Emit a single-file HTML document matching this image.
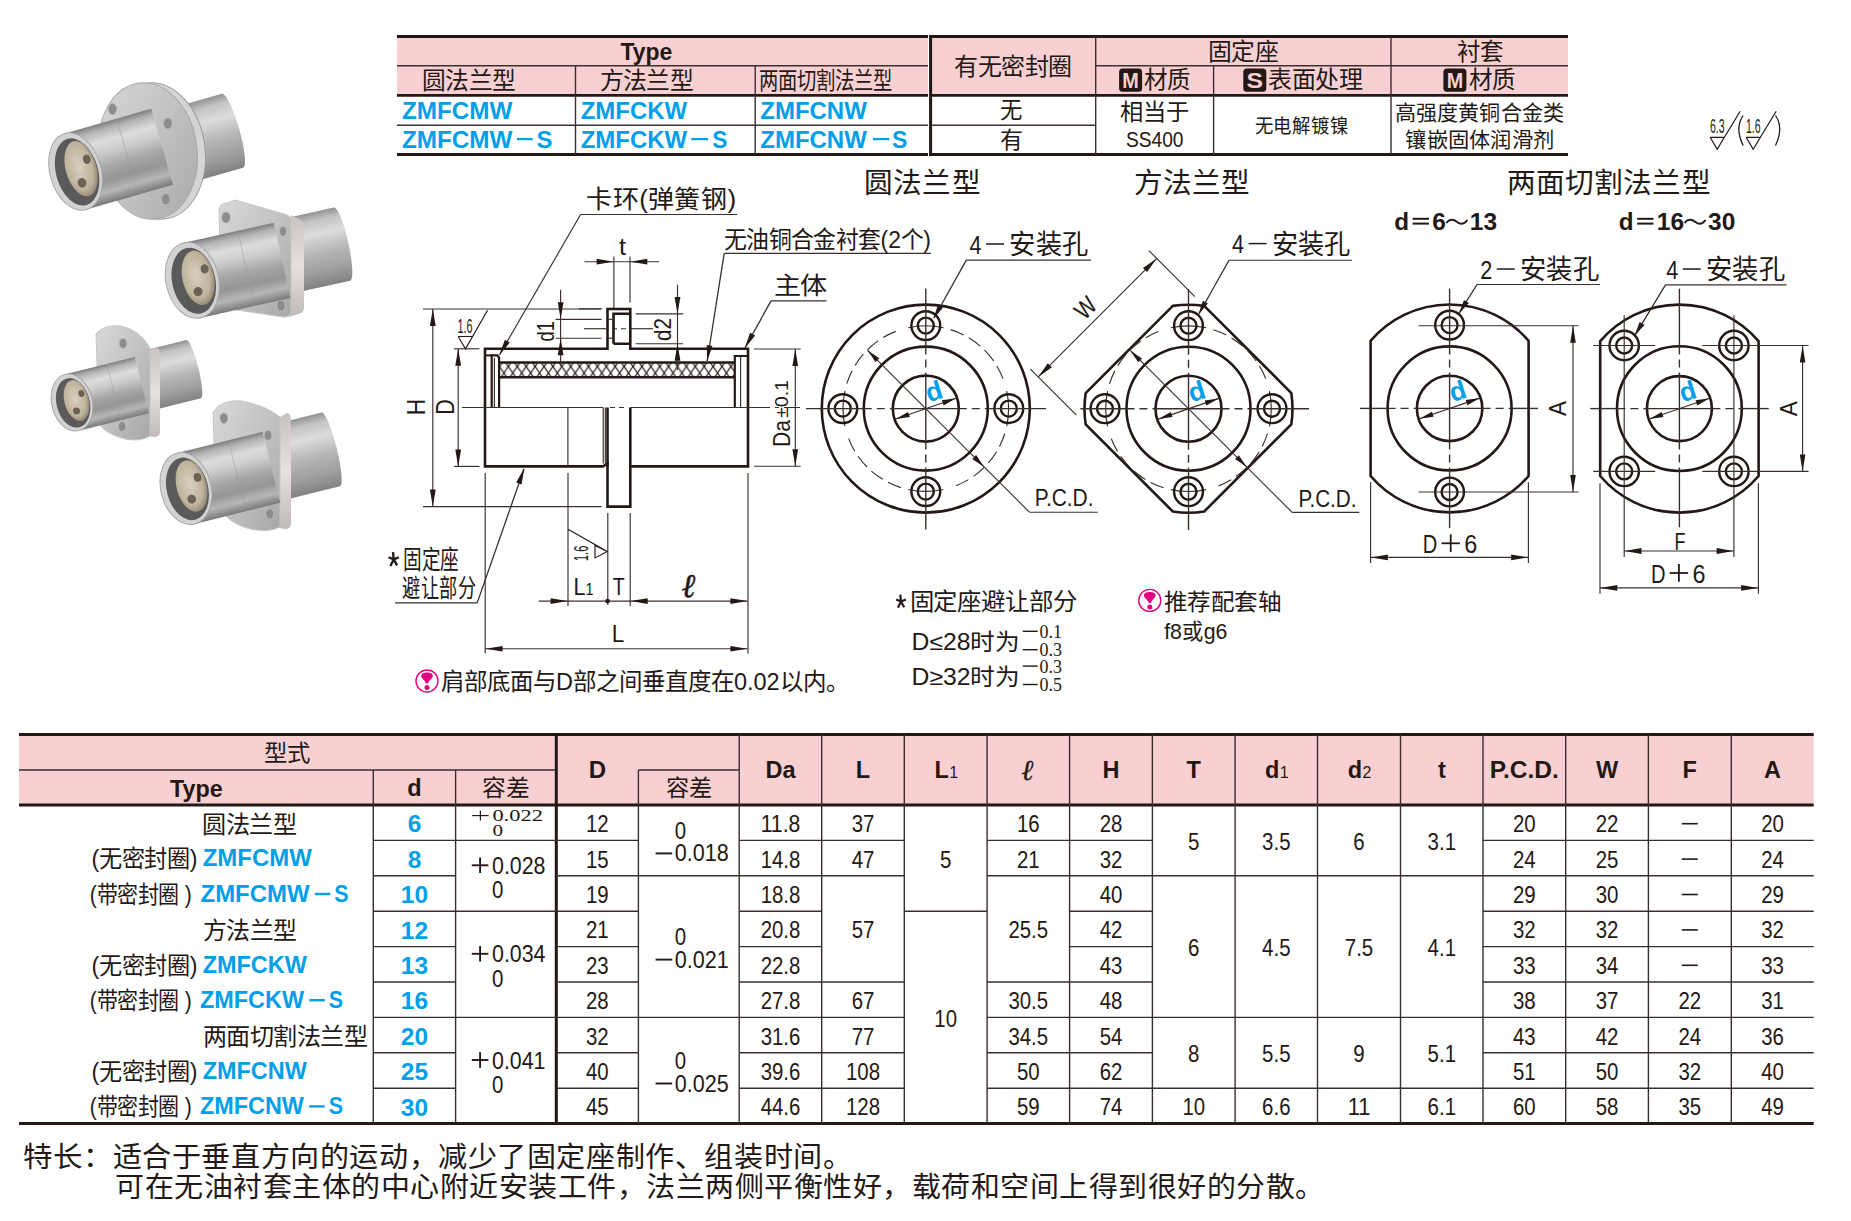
<!DOCTYPE html>
<html lang="zh-CN"><head><meta charset="utf-8"><title>ZMFCMW</title>
<style>html,body{margin:0;padding:0;background:#fff;overflow:hidden;}svg{display:block;font-family:"Liberation Sans",sans-serif;}</style></head><body>
<svg width="1851" height="1221" viewBox="0 0 1851 1221">
<rect width="1851" height="1221" fill="#fff"/>
<defs>
<linearGradient id="gM" x1="0" y1="0" x2="0" y2="1">
<stop offset="0" stop-color="#7e7e7e"/><stop offset="0.08" stop-color="#b2b2b2"/>
<stop offset="0.22" stop-color="#dcdcdc"/><stop offset="0.36" stop-color="#cdcdcd"/>
<stop offset="0.55" stop-color="#a6a6a6"/><stop offset="0.72" stop-color="#959595"/>
<stop offset="0.86" stop-color="#b6b6b6"/><stop offset="1" stop-color="#7a7a7a"/></linearGradient>
<linearGradient id="gR" x1="0" y1="0" x2="0" y2="1">
<stop offset="0" stop-color="#929292"/><stop offset="0.12" stop-color="#c4c4c4"/>
<stop offset="0.3" stop-color="#dcdcdc"/><stop offset="0.55" stop-color="#b6b6b6"/>
<stop offset="0.8" stop-color="#9e9e9e"/><stop offset="1" stop-color="#828282"/></linearGradient>
<linearGradient id="gF" x1="0" y1="0" x2="1" y2="1">
<stop offset="0" stop-color="#d8d8d8"/><stop offset="0.5" stop-color="#c2c2c2"/>
<stop offset="1" stop-color="#a8a8a8"/></linearGradient>
<linearGradient id="gS" x1="0" y1="0" x2="0" y2="1">
<stop offset="0" stop-color="#c8c2c0"/><stop offset="0.5" stop-color="#e6e0de"/>
<stop offset="1" stop-color="#c0bab8"/></linearGradient>
<radialGradient id="gB" cx="0.45" cy="0.45" r="0.6">
<stop offset="0" stop-color="#d8d0be"/><stop offset="0.7" stop-color="#bfb39c"/>
<stop offset="1" stop-color="#8a7f6c"/></radialGradient>
</defs>
<g transform="translate(75.6,171.5) rotate(-16.0)">
<rect x="70.0" y="-34.5" width="92.0" height="77.0" fill="url(#gR)"/>
<ellipse cx="162.0" cy="4.0" rx="7.0" ry="38.5" fill="url(#gR)"/>
</g>
<ellipse cx="156" cy="151" rx="49" ry="68.5" transform="rotate(-8 156 151)" fill="#d6d4d3" stroke="#9c9c9c" stroke-width="1"/>
<ellipse cx="148" cy="151" rx="49" ry="68.5" transform="rotate(-8 148 151)" fill="url(#gF)" stroke="#a8a8a8" stroke-width="1"/>
<ellipse cx="112.6" cy="109.1" rx="4.3" ry="5.6" fill="#8c8c8c" stroke="#b8b8b8" stroke-width="1"/>
<ellipse cx="167.9" cy="123.5" rx="4.3" ry="5.6" fill="#8c8c8c" stroke="#b8b8b8" stroke-width="1"/>
<ellipse cx="165.8" cy="199.2" rx="4.3" ry="5.6" fill="#8c8c8c" stroke="#b8b8b8" stroke-width="1"/>
<g transform="translate(75.6,171.5) rotate(-16.0)">
<rect x="0" y="-39.5" width="90.0" height="79.0" fill="url(#gM)"/>
<line x1="54.0" y1="-39.5" x2="54.0" y2="39.5" stroke="#999" stroke-width="0.8" opacity="0.5"/>
<ellipse cx="0" cy="0" rx="25.6" ry="39.5" fill="#d2d2d2" stroke="#a8a8a8" stroke-width="1"/>
<ellipse cx="1.3" cy="0.8" rx="21.0" ry="34.4" fill="#5a5a5a"/>
<ellipse cx="6.1" cy="-1.2" rx="15.4" ry="28.4" fill="url(#gB)"/>
<ellipse cx="14.1" cy="-8.7" rx="3.8" ry="4.7" fill="#6a6254"/>
<ellipse cx="3.1" cy="12.6" rx="4.4" ry="4.7" fill="#6a6254"/>
</g>
<g transform="translate(192.3,280.3) rotate(-12.5)">
<rect x="70.0" y="-40.5" width="84.0" height="75.0" fill="url(#gR)"/>
<ellipse cx="154.0" cy="-3.0" rx="6.5" ry="37.5" fill="url(#gR)"/>
</g>
<path d="M291,215 L299,219 Q304,222 304,228 L304,308 Q304,313 298,314 L289,317 Z" fill="url(#gS)"/>
<path d="M227,203 Q219,203 219,211 L222,300 Q222,308 230,309 L283,317 Q291,318 291,310 L291,222 Q291,215 284,214 L235,200 Z" fill="url(#gF)" stroke="#c6c6c6" stroke-width="1"/>
<ellipse cx="226.0" cy="217.5" rx="4.3" ry="5.6" fill="#8c8c8c" stroke="#b8b8b8" stroke-width="1"/>
<ellipse cx="281.0" cy="305.8" rx="4.3" ry="5.6" fill="#8c8c8c" stroke="#b8b8b8" stroke-width="1"/>
<ellipse cx="283.0" cy="231.3" rx="3.5" ry="5" fill="#8c8c8c" stroke="#b8b8b8" stroke-width="1"/>
<g transform="translate(192.3,280.3) rotate(-12.5)">
<rect x="0" y="-38.5" width="92.0" height="77.0" fill="url(#gM)"/>
<line x1="55.2" y1="-38.5" x2="55.2" y2="38.5" stroke="#999" stroke-width="0.8" opacity="0.5"/>
<ellipse cx="0" cy="0" rx="26.4" ry="38.5" fill="#d2d2d2" stroke="#a8a8a8" stroke-width="1"/>
<ellipse cx="1.3" cy="0.8" rx="21.6" ry="33.5" fill="#5a5a5a"/>
<ellipse cx="6.3" cy="-1.2" rx="15.8" ry="27.7" fill="url(#gB)"/>
<ellipse cx="14.5" cy="-8.5" rx="4.0" ry="4.6" fill="#6a6254"/>
<ellipse cx="3.2" cy="12.3" rx="4.5" ry="4.6" fill="#6a6254"/>
</g>
<g transform="translate(72.0,402.5) rotate(-14.0)">
<rect x="60.0" y="-33.0" width="66.0" height="60.0" fill="url(#gR)"/>
<ellipse cx="126.0" cy="-3.0" rx="5.0" ry="30.0" fill="url(#gR)"/>
</g>
<path d="M149,351 L156,347 Q160,348 160,354 L160,432 Q160,437 154,437 L148,436 Z" fill="url(#gS)"/>
<path d="M96,334 Q104,324 121,326 Q140,330 150,348 L150,436 Q140,442 125,439 Q106,434 99,424 Z" fill="url(#gF)" stroke="#c6c6c6" stroke-width="1"/>
<ellipse cx="123.0" cy="343.4" rx="3.8" ry="5" fill="#8c8c8c" stroke="#b8b8b8" stroke-width="1"/>
<ellipse cx="122.0" cy="426.5" rx="3.8" ry="5" fill="#8c8c8c" stroke="#b8b8b8" stroke-width="1"/>
<g transform="translate(72.0,402.5) rotate(-14.0)">
<rect x="0" y="-29.0" width="72.0" height="58.0" fill="url(#gM)"/>
<line x1="43.2" y1="-29.0" x2="43.2" y2="29.0" stroke="#999" stroke-width="0.8" opacity="0.5"/>
<ellipse cx="0" cy="0" rx="20.3" ry="29.0" fill="#d2d2d2" stroke="#a8a8a8" stroke-width="1"/>
<ellipse cx="1.0" cy="0.6" rx="16.6" ry="25.2" fill="#5a5a5a"/>
<ellipse cx="4.9" cy="-0.9" rx="12.2" ry="20.9" fill="url(#gB)"/>
<ellipse cx="11.2" cy="-6.4" rx="3.0" ry="3.5" fill="#6a6254"/>
<ellipse cx="2.4" cy="9.3" rx="3.5" ry="3.5" fill="#6a6254"/>
</g>
<g transform="translate(186.0,488.5) rotate(-14.0)">
<rect x="72.0" y="-41.0" width="78.0" height="76.0" fill="url(#gR)"/>
<ellipse cx="150.0" cy="-3.0" rx="6.0" ry="38.0" fill="url(#gR)"/>
</g>
<path d="M280,417 L287,413 Q291,414 291,420 L291,523 Q291,529 285,529 L279,528 Z" fill="url(#gS)"/>
<path d="M213,412 Q222,399 241,401 Q265,405 280,417 L280,527 Q268,533 250,529 Q226,523 216,503 Z" fill="url(#gF)" stroke="#c6c6c6" stroke-width="1"/>
<ellipse cx="223.9" cy="418.2" rx="4" ry="5.3" fill="#8c8c8c" stroke="#b8b8b8" stroke-width="1"/>
<ellipse cx="268.0" cy="435.4" rx="3.8" ry="5" fill="#8c8c8c" stroke="#b8b8b8" stroke-width="1"/>
<ellipse cx="269.8" cy="513.8" rx="4" ry="5.3" fill="#8c8c8c" stroke="#b8b8b8" stroke-width="1"/>
<g transform="translate(186.0,488.5) rotate(-14.0)">
<rect x="0" y="-36.5" width="88.0" height="73.0" fill="url(#gM)"/>
<line x1="52.8" y1="-36.5" x2="52.8" y2="36.5" stroke="#999" stroke-width="0.8" opacity="0.5"/>
<ellipse cx="0" cy="0" rx="25.2" ry="36.5" fill="#d2d2d2" stroke="#a8a8a8" stroke-width="1"/>
<ellipse cx="1.3" cy="0.7" rx="20.7" ry="31.8" fill="#5a5a5a"/>
<ellipse cx="6.0" cy="-1.1" rx="15.1" ry="26.3" fill="url(#gB)"/>
<ellipse cx="13.9" cy="-8.0" rx="3.8" ry="4.4" fill="#6a6254"/>
<ellipse cx="3.0" cy="11.7" rx="4.3" ry="4.4" fill="#6a6254"/>
</g>
<rect x="397.0" y="36.5" width="531.0" height="58.8" fill="#f8d0d1"/>
<rect x="929.0" y="36.5" width="639.0" height="58.8" fill="#f8d0d1"/>
<line x1="397.0" y1="36.5" x2="928.0" y2="36.5" stroke="#231815" stroke-width="3.0" stroke-linecap="butt"/>
<line x1="397.0" y1="95.3" x2="928.0" y2="95.3" stroke="#231815" stroke-width="2.8" stroke-linecap="butt"/>
<line x1="397.0" y1="154.6" x2="928.0" y2="154.6" stroke="#231815" stroke-width="3.0" stroke-linecap="butt"/>
<line x1="929.0" y1="36.5" x2="1568.0" y2="36.5" stroke="#231815" stroke-width="3.0" stroke-linecap="butt"/>
<line x1="929.0" y1="95.3" x2="1568.0" y2="95.3" stroke="#231815" stroke-width="2.8" stroke-linecap="butt"/>
<line x1="929.0" y1="154.6" x2="1568.0" y2="154.6" stroke="#231815" stroke-width="3.0" stroke-linecap="butt"/>
<line x1="397.0" y1="65.8" x2="928.0" y2="65.8" stroke="#3a2e2c" stroke-width="1.4" stroke-linecap="butt"/>
<line x1="1096.0" y1="65.8" x2="1568.0" y2="65.8" stroke="#3a2e2c" stroke-width="1.4" stroke-linecap="butt"/>
<line x1="397.0" y1="125.2" x2="928.0" y2="125.2" stroke="#3a2e2c" stroke-width="1.4" stroke-linecap="butt"/>
<line x1="929.0" y1="125.2" x2="1096.0" y2="125.2" stroke="#3a2e2c" stroke-width="1.4" stroke-linecap="butt"/>
<line x1="575.5" y1="65.8" x2="575.5" y2="154.6" stroke="#3a2e2c" stroke-width="1.4" stroke-linecap="butt"/>
<line x1="755.2" y1="65.8" x2="755.2" y2="154.6" stroke="#3a2e2c" stroke-width="1.4" stroke-linecap="butt"/>
<line x1="930.6" y1="35.0" x2="930.6" y2="156.1" stroke="#231815" stroke-width="3.0" stroke-linecap="butt"/>
<line x1="1095.7" y1="36.5" x2="1095.7" y2="154.6" stroke="#3a2e2c" stroke-width="1.4" stroke-linecap="butt"/>
<line x1="1213.6" y1="65.8" x2="1213.6" y2="154.6" stroke="#3a2e2c" stroke-width="1.4" stroke-linecap="butt"/>
<line x1="1391.0" y1="36.5" x2="1391.0" y2="154.6" stroke="#3a2e2c" stroke-width="1.4" stroke-linecap="butt"/>
<text x="620.4" y="59.7" font-size="23" font-weight="bold" fill="#231815" textLength="51.9" lengthAdjust="spacingAndGlyphs">Type</text>
<text x="422.1" y="89.0" font-size="23.5" fill="#231815" textLength="93.1" lengthAdjust="spacingAndGlyphs">圆法兰型</text>
<text x="599.5" y="89.0" font-size="23.5" fill="#231815" textLength="93.4" lengthAdjust="spacingAndGlyphs">方法兰型</text>
<text x="759.4" y="89.0" font-size="23.5" fill="#231815" textLength="132.6" lengthAdjust="spacingAndGlyphs">两面切割法兰型</text>
<text x="401.9" y="119.1" font-size="24" font-weight="bold" fill="#00a0e9" textLength="110.5" lengthAdjust="spacingAndGlyphs">ZMFCMW</text>
<text x="401.9" y="147.8" font-size="24" font-weight="bold" fill="#00a0e9" textLength="110.5" lengthAdjust="spacingAndGlyphs">ZMFCMW</text>
<line x1="517.0" y1="139.1" x2="532.6" y2="139.1" stroke="#00a0e9" stroke-width="2.3" stroke-linecap="butt"/>
<text x="536.5" y="147.8" font-size="24" font-weight="bold" fill="#00a0e9" textLength="15.9" lengthAdjust="spacingAndGlyphs">S</text>
<text x="580.7" y="119.1" font-size="24" font-weight="bold" fill="#00a0e9" textLength="106.5" lengthAdjust="spacingAndGlyphs">ZMFCKW</text>
<text x="580.7" y="147.8" font-size="24" font-weight="bold" fill="#00a0e9" textLength="106.5" lengthAdjust="spacingAndGlyphs">ZMFCKW</text>
<line x1="691.3" y1="139.1" x2="708.0" y2="139.1" stroke="#00a0e9" stroke-width="2.3" stroke-linecap="butt"/>
<text x="712.2" y="147.8" font-size="24" font-weight="bold" fill="#00a0e9" textLength="15.1" lengthAdjust="spacingAndGlyphs">S</text>
<text x="760.3" y="119.1" font-size="24" font-weight="bold" fill="#00a0e9" textLength="106.5" lengthAdjust="spacingAndGlyphs">ZMFCNW</text>
<text x="760.3" y="147.8" font-size="24" font-weight="bold" fill="#00a0e9" textLength="106.5" lengthAdjust="spacingAndGlyphs">ZMFCNW</text>
<line x1="872.9" y1="139.1" x2="889.3" y2="139.1" stroke="#00a0e9" stroke-width="2.3" stroke-linecap="butt"/>
<text x="892.1" y="147.8" font-size="24" font-weight="bold" fill="#00a0e9" textLength="15.3" lengthAdjust="spacingAndGlyphs">S</text>
<text x="954.4" y="75.0" font-size="23.5" fill="#231815" textLength="117.5" lengthAdjust="spacingAndGlyphs">有无密封圈</text>
<text x="999.7" y="117.5" font-size="23" fill="#231815" textLength="22.4" lengthAdjust="spacingAndGlyphs">无</text>
<text x="999.5" y="148.3" font-size="23" fill="#231815" textLength="23.1" lengthAdjust="spacingAndGlyphs">有</text>
<text x="1208.1" y="59.7" font-size="23.5" fill="#231815" textLength="70.0" lengthAdjust="spacingAndGlyphs">固定座</text>
<text x="1456.6" y="60.2" font-size="23.5" fill="#231815" textLength="46.0" lengthAdjust="spacingAndGlyphs">衬套</text>
<rect x="1119.1" y="68.6" width="23" height="23.2" rx="3.5" fill="#231815"/>
<text x="1130.6" y="88.2" font-size="22" font-weight="bold" text-anchor="middle" fill="#f8d0d1" textLength="16.5" lengthAdjust="spacingAndGlyphs">M</text>
<text x="1144.2" y="88.4" font-size="23.5" fill="#231815" textLength="46.1" lengthAdjust="spacingAndGlyphs">材质</text>
<rect x="1243.3" y="68.6" width="23" height="23.2" rx="3.5" fill="#231815"/>
<text x="1254.8" y="88.2" font-size="22" font-weight="bold" text-anchor="middle" fill="#f8d0d1" textLength="16.5" lengthAdjust="spacingAndGlyphs">S</text>
<text x="1268.0" y="88.4" font-size="23.5" fill="#231815" textLength="94.1" lengthAdjust="spacingAndGlyphs">表面处理</text>
<rect x="1443.4" y="68.6" width="23" height="23.2" rx="3.5" fill="#231815"/>
<text x="1454.9" y="88.2" font-size="22" font-weight="bold" text-anchor="middle" fill="#f8d0d1" textLength="16.5" lengthAdjust="spacingAndGlyphs">M</text>
<text x="1468.9" y="88.4" font-size="23.5" fill="#231815" textLength="46.2" lengthAdjust="spacingAndGlyphs">材质</text>
<text x="1119.8" y="119.8" font-size="23" fill="#231815" textLength="69.9" lengthAdjust="spacingAndGlyphs">相当于</text>
<text x="1125.9" y="146.5" font-size="22" fill="#231815" textLength="57.6" lengthAdjust="spacingAndGlyphs">SS400</text>
<text x="1254.5" y="133.2" font-size="19.5" fill="#231815" textLength="94.3" lengthAdjust="spacingAndGlyphs">无电解镀镍</text>
<text x="1395.0" y="120.2" font-size="21" fill="#231815" textLength="168.9" lengthAdjust="spacingAndGlyphs">高强度黄铜合金类</text>
<text x="1405.3" y="146.5" font-size="21" fill="#231815" textLength="149.0" lengthAdjust="spacingAndGlyphs">镶嵌固体润滑剂</text>
<path d="M1710.2,137.3 L1723.7,137.3 M1710.2,137.3 L1717.2,149.3 L1724.7,136.8 L1740.2,111.3" fill="none" stroke="#231815" stroke-width="1.2"/>
<text x="1709.9" y="132.7" font-size="20.5" fill="#231815" textLength="14.6" lengthAdjust="spacingAndGlyphs">6.3</text>
<path d="M1746.2,137.3 L1759.7,137.3 M1746.2,137.3 L1753.2,149.3 L1760.7,136.8 L1776.2,111.3" fill="none" stroke="#231815" stroke-width="1.2"/>
<text x="1745.9" y="132.7" font-size="20.5" fill="#231815" textLength="14.6" lengthAdjust="spacingAndGlyphs">1.6</text>
<path d="M1743.2,115.5 Q1734.5,128 1743.2,145.5" fill="none" stroke="#231815" stroke-width="1.3"/>
<path d="M1775.5,115.5 Q1784,128 1775.5,145.5" fill="none" stroke="#231815" stroke-width="1.3"/>
<defs><pattern id="hx" patternUnits="userSpaceOnUse" width="8.9" height="13" x="499.5" y="366.5">
<path d="M-0.5,-0.73 L9.4,13.73 M9.4,-0.73 L-0.5,13.73" stroke="#231815" stroke-width="1.25"/></pattern></defs>
<rect x="499.0" y="362.5" width="235.5" height="14.8" fill="url(#hx)"/>
<line x1="499.0" y1="362.5" x2="734.5" y2="362.5" stroke="#231815" stroke-width="2.4" stroke-linecap="butt"/>
<line x1="499.0" y1="377.3" x2="734.5" y2="377.3" stroke="#231815" stroke-width="2.4" stroke-linecap="butt"/>
<path d="M485.0,407.5 L485.0,348.8 L607.5,348.8 L607.5,309.0 L630.3,309.0 L630.3,348.8 L748.0,348.8 L748.0,466.4 L630.3,466.4 L630.3,506.6 L607.5,506.6 L607.5,463.4 L603.0,466.4 L485.0,466.4 L485.0,407.5" fill="none" stroke="#231815" stroke-width="2.6"/>
<path d="M613.5,343.8 L613.5,313.8 L629.5,313.8 M613.5,343.8 L629.5,343.8" fill="none" stroke="#231815" stroke-width="2.6"/>
<line x1="608.0" y1="319.3" x2="613.5" y2="319.3" stroke="#3a2e2c" stroke-width="1.15" stroke-linecap="butt"/>
<line x1="608.0" y1="338.2" x2="613.5" y2="338.2" stroke="#3a2e2c" stroke-width="1.15" stroke-linecap="butt"/>
<path d="M491.7,407.5 L491.7,355.4 L497.5,355.4 L499.1,358 L499.1,407.5" fill="none" stroke="#231815" stroke-width="2.2"/>
<line x1="494.4" y1="358.0" x2="494.4" y2="407.5" stroke="#3a2e2c" stroke-width="1.15" stroke-linecap="butt"/>
<line x1="485.0" y1="355.4" x2="491.7" y2="355.4" stroke="#231815" stroke-width="2.0" stroke-linecap="butt"/>
<path d="M747.5,356 L734.8,356 L734.8,407.5" fill="none" stroke="#231815" stroke-width="2.2"/>
<line x1="740.6" y1="356.0" x2="740.6" y2="407.5" stroke="#3a2e2c" stroke-width="1.15" stroke-linecap="butt"/>
<line x1="607.5" y1="407.5" x2="607.5" y2="466.4" stroke="#231815" stroke-width="2.6" stroke-linecap="butt"/>
<line x1="630.3" y1="407.5" x2="630.3" y2="466.4" stroke="#231815" stroke-width="2.6" stroke-linecap="butt"/>
<line x1="567.9" y1="407.5" x2="567.9" y2="466.4" stroke="#3a2e2c" stroke-width="1.15" stroke-linecap="butt"/>
<line x1="603.2" y1="407.5" x2="603.2" y2="463.4" stroke="#3a2e2c" stroke-width="1.15" stroke-linecap="butt"/>
<line x1="605.3" y1="407.5" x2="605.3" y2="463.4" stroke="#3a2e2c" stroke-width="1.15" stroke-linecap="butt"/>
<line x1="462.0" y1="407.5" x2="603.0" y2="407.5" stroke="#3a2e2c" stroke-width="1.15" stroke-linecap="butt"/>
<line x1="630.5" y1="407.5" x2="748.0" y2="407.5" stroke="#3a2e2c" stroke-width="1.15" stroke-linecap="butt"/>
<line x1="748.0" y1="407.5" x2="800.0" y2="407.5" stroke="#3a2e2c" stroke-width="1.15" stroke-dasharray="22,5,4,5" stroke-linecap="butt"/>
<line x1="610.0" y1="407.5" x2="628.0" y2="407.5" stroke="#3a2e2c" stroke-width="1.15" stroke-dasharray="5,4" stroke-linecap="butt"/>
<line x1="584.0" y1="328.7" x2="606.0" y2="328.7" stroke="#3a2e2c" stroke-width="1.15" stroke-linecap="butt"/>
<line x1="612.0" y1="328.7" x2="631.0" y2="328.7" stroke="#3a2e2c" stroke-width="1.15" stroke-dasharray="5,4" stroke-linecap="butt"/>
<line x1="631.0" y1="328.7" x2="653.0" y2="328.7" stroke="#3a2e2c" stroke-width="1.15" stroke-linecap="butt"/>
<line x1="423.0" y1="309.0" x2="601.5" y2="309.0" stroke="#3a2e2c" stroke-width="1.15" stroke-linecap="butt"/>
<line x1="423.0" y1="506.6" x2="601.5" y2="506.6" stroke="#3a2e2c" stroke-width="1.15" stroke-linecap="butt"/>
<line x1="432.8" y1="309.0" x2="432.8" y2="506.6" stroke="#3a2e2c" stroke-width="1.15" stroke-linecap="butt"/>
<path d="M432.8,309.0 L435.7,326.0 L429.9,326.0 Z" fill="#231815"/>
<path d="M432.8,506.6 L429.9,489.6 L435.7,489.6 Z" fill="#231815"/>
<line x1="454.0" y1="348.8" x2="479.5" y2="348.8" stroke="#3a2e2c" stroke-width="1.15" stroke-linecap="butt"/>
<line x1="454.0" y1="466.4" x2="479.5" y2="466.4" stroke="#3a2e2c" stroke-width="1.15" stroke-linecap="butt"/>
<line x1="458.2" y1="348.8" x2="458.2" y2="466.4" stroke="#3a2e2c" stroke-width="1.15" stroke-linecap="butt"/>
<path d="M458.2,348.8 L461.1,365.8 L455.3,365.8 Z" fill="#231815"/>
<path d="M458.2,466.4 L455.3,449.4 L461.1,449.4 Z" fill="#231815"/>
<text transform="translate(424.6,406.9) rotate(-90)" font-size="25" text-anchor="middle" fill="#231815" textLength="16.5" lengthAdjust="spacingAndGlyphs">H</text>
<text transform="translate(454.0,406.9) rotate(-90)" font-size="25" text-anchor="middle" fill="#231815" textLength="15.5" lengthAdjust="spacingAndGlyphs">D</text>
<line x1="754.0" y1="349.0" x2="800.7" y2="349.0" stroke="#3a2e2c" stroke-width="1.15" stroke-linecap="butt"/>
<line x1="754.0" y1="466.2" x2="800.7" y2="466.2" stroke="#3a2e2c" stroke-width="1.15" stroke-linecap="butt"/>
<line x1="795.3" y1="349.0" x2="795.3" y2="466.2" stroke="#3a2e2c" stroke-width="1.15" stroke-linecap="butt"/>
<path d="M795.3,349.0 L798.1,366.0 L792.4,366.0 Z" fill="#231815"/>
<path d="M795.3,466.2 L792.4,449.2 L798.1,449.2 Z" fill="#231815"/>
<text transform="translate(789.7,447.0) rotate(-90)" font-size="24" fill="#231815" textLength="27" lengthAdjust="spacingAndGlyphs">Da</text>
<text transform="translate(787.5,418.0) rotate(-90)" font-size="18" fill="#231815" textLength="38" lengthAdjust="spacingAndGlyphs">±0.1</text>
<line x1="613.9" y1="256.4" x2="613.9" y2="308.6" stroke="#3a2e2c" stroke-width="1.15" stroke-linecap="butt"/>
<line x1="630.0" y1="256.4" x2="630.0" y2="302.5" stroke="#3a2e2c" stroke-width="1.15" stroke-linecap="butt"/>
<line x1="584.4" y1="261.7" x2="659.2" y2="261.7" stroke="#3a2e2c" stroke-width="1.15" stroke-linecap="butt"/>
<path d="M613.6,261.7 L596.6,264.6 L596.6,258.8 Z" fill="#231815"/>
<path d="M630.3,261.7 L647.3,258.8 L647.3,264.6 Z" fill="#231815"/>
<text x="619.0" y="254.9" font-size="24" fill="#231815" textLength="7.0" lengthAdjust="spacingAndGlyphs">t</text>
<line x1="555.6" y1="319.3" x2="601.5" y2="319.3" stroke="#3a2e2c" stroke-width="1.15" stroke-linecap="butt"/>
<line x1="555.6" y1="338.2" x2="601.5" y2="338.2" stroke="#3a2e2c" stroke-width="1.15" stroke-linecap="butt"/>
<line x1="579.0" y1="308.8" x2="601.5" y2="308.8" stroke="#3a2e2c" stroke-width="1.15" stroke-linecap="butt"/>
<line x1="560.6" y1="289.7" x2="560.6" y2="366.0" stroke="#3a2e2c" stroke-width="1.15" stroke-linecap="butt"/>
<path d="M560.6,319.3 L557.8,302.3 L563.5,302.3 Z" fill="#231815"/>
<path d="M560.6,338.2 L563.5,355.2 L557.8,355.2 Z" fill="#231815"/>
<text transform="translate(554.0,341.4) rotate(-90)" font-size="24" fill="#231815" textLength="20.4" lengthAdjust="spacingAndGlyphs">d1</text>
<line x1="635.7" y1="313.9" x2="683.2" y2="313.9" stroke="#3a2e2c" stroke-width="1.15" stroke-linecap="butt"/>
<line x1="635.7" y1="343.7" x2="683.2" y2="343.7" stroke="#3a2e2c" stroke-width="1.15" stroke-linecap="butt"/>
<line x1="677.5" y1="284.7" x2="677.5" y2="370.0" stroke="#3a2e2c" stroke-width="1.15" stroke-linecap="butt"/>
<path d="M677.5,313.9 L674.6,296.9 L680.4,296.9 Z" fill="#231815"/>
<path d="M677.5,343.7 L680.4,360.7 L674.6,360.7 Z" fill="#231815"/>
<text transform="translate(671.0,341.0) rotate(-90)" font-size="24" fill="#231815" textLength="23" lengthAdjust="spacingAndGlyphs">d2</text>
<path d="M458.2,336.5 L472.5,336.5 M458.2,336.5 L465.5,348.8 L487.6,310.3" fill="none" stroke="#231815" stroke-width="1.15"/>
<text x="457.6" y="332.7" font-size="20.5" fill="#231815" textLength="15.0" lengthAdjust="spacingAndGlyphs">1.6</text>
<line x1="485.2" y1="473.0" x2="485.2" y2="653.4" stroke="#3a2e2c" stroke-width="1.15" stroke-linecap="butt"/>
<line x1="568.0" y1="473.0" x2="568.0" y2="605.9" stroke="#3a2e2c" stroke-width="1.15" stroke-linecap="butt"/>
<line x1="607.8" y1="513.0" x2="607.8" y2="605.0" stroke="#3a2e2c" stroke-width="1.15" stroke-linecap="butt"/>
<line x1="630.2" y1="513.0" x2="630.2" y2="605.9" stroke="#3a2e2c" stroke-width="1.15" stroke-linecap="butt"/>
<line x1="748.0" y1="473.0" x2="748.0" y2="653.4" stroke="#3a2e2c" stroke-width="1.15" stroke-linecap="butt"/>
<line x1="538.8" y1="601.1" x2="747.4" y2="601.1" stroke="#3a2e2c" stroke-width="1.15" stroke-linecap="butt"/>
<path d="M567.6,601.1 L550.6,604.0 L550.6,598.2 Z" fill="#231815"/>
<circle cx="607.6" cy="601.1" r="2.3" fill="#231815" stroke="#231815" stroke-width="0"/>
<path d="M630.7,601.1 L647.7,598.2 L647.7,604.0 Z" fill="#231815"/>
<path d="M747.4,601.1 L730.4,604.0 L730.4,598.2 Z" fill="#231815"/>
<line x1="485.2" y1="648.7" x2="747.4" y2="648.7" stroke="#3a2e2c" stroke-width="1.15" stroke-linecap="butt"/>
<path d="M485.6,648.7 L502.6,645.9 L502.6,651.6 Z" fill="#231815"/>
<path d="M747.4,648.7 L730.4,651.6 L730.4,645.9 Z" fill="#231815"/>
<text x="573.4" y="595.1" font-size="24" fill="#231815" textLength="12.0" lengthAdjust="spacingAndGlyphs">L</text>
<text x="585.5" y="595.1" font-size="17" fill="#231815" textLength="8.0" lengthAdjust="spacingAndGlyphs">1</text>
<text x="612.8" y="595.1" font-size="24" fill="#231815" textLength="12.0" lengthAdjust="spacingAndGlyphs">T</text>
<text x="681.6" y="596.6" font-size="33" font-style="italic" font-family="Liberation Serif" fill="#231815" stroke="#231815" stroke-width="0.5">ℓ</text>
<text x="611.8" y="641.5" font-size="24" fill="#231815" textLength="12.5" lengthAdjust="spacingAndGlyphs">L</text>
<path d="M568,529.2 L607.2,551.4 L595,557.9 L595,545.4 L607.2,551.4" fill="none" stroke="#231815" stroke-width="1.15"/>
<text transform="translate(588.3,561.1) rotate(-90)" font-size="20.5" fill="#231815" textLength="15.4" lengthAdjust="spacingAndGlyphs">1.6</text>
<text x="586.1" y="207.6" font-size="25.5" fill="#231815" textLength="150.1" lengthAdjust="spacingAndGlyphs">卡环(弹簧钢)</text>
<line x1="580.6" y1="214.5" x2="737.1" y2="214.5" stroke="#3a2e2c" stroke-width="1.15" stroke-linecap="butt"/>
<line x1="580.6" y1="214.5" x2="499.6" y2="354.6" stroke="#3a2e2c" stroke-width="1.15" stroke-linecap="butt"/>
<path d="M499.1,355.4 L504.9,339.7 L509.8,342.5 Z" fill="#231815"/>
<text x="723.9" y="247.6" font-size="23.5" fill="#231815" textLength="207.0" lengthAdjust="spacingAndGlyphs">无油铜合金衬套(2个)</text>
<line x1="724.2" y1="253.3" x2="930.9" y2="253.3" stroke="#3a2e2c" stroke-width="1.15" stroke-linecap="butt"/>
<line x1="724.2" y1="253.3" x2="707.2" y2="361.0" stroke="#3a2e2c" stroke-width="1.3" stroke-linecap="butt"/>
<path d="M707.0,361.7 L706.8,345.0 L712.4,345.9 Z" fill="#231815"/>
<text x="773.7" y="294.4" font-size="23.5" fill="#231815" textLength="53.2" lengthAdjust="spacingAndGlyphs">主体</text>
<line x1="771.0" y1="300.9" x2="826.5" y2="300.9" stroke="#3a2e2c" stroke-width="1.15" stroke-linecap="butt"/>
<line x1="771.0" y1="300.9" x2="745.0" y2="348.0" stroke="#3a2e2c" stroke-width="1.3" stroke-linecap="butt"/>
<path d="M744.6,348.6 L750.1,332.8 L755.1,335.5 Z" fill="#231815"/>
<path d="M393.7,559.4 L393.0,552.1 M393.7,559.4 L388.6,557.2 M393.7,559.4 L398.9,557.2 M393.7,559.4 L390.4,565.9 M393.7,559.4 L397.1,565.4 " stroke="#231815" stroke-width="2.30" fill="none"/>
<text x="402.9" y="569.0" font-size="26" fill="#231815" textLength="56.0" lengthAdjust="spacingAndGlyphs">固定座</text>
<text x="402.0" y="596.7" font-size="25.5" fill="#231815" textLength="74.2" lengthAdjust="spacingAndGlyphs">避让部分</text>
<line x1="395.0" y1="602.9" x2="477.2" y2="602.9" stroke="#3a2e2c" stroke-width="1.15" stroke-linecap="butt"/>
<line x1="477.2" y1="602.9" x2="524.0" y2="469.0" stroke="#3a2e2c" stroke-width="1.3" stroke-linecap="butt"/>
<path d="M524.3,468.0 L521.6,484.5 L516.2,482.6 Z" fill="#231815"/>
<circle cx="925.8" cy="408.6" r="104.0" fill="none" stroke="#231815" stroke-width="2.6"/>
<circle cx="925.8" cy="408.6" r="62.0" fill="none" stroke="#231815" stroke-width="2.6"/>
<circle cx="925.8" cy="408.6" r="33.0" fill="none" stroke="#231815" stroke-width="2.6"/>
<path d="M1004.8,433.5 A82.8,82.8 0 0 1 950.7,487.6" fill="none" stroke="#3a2e2c" stroke-width="1.15" stroke-dasharray="14,6"/>
<path d="M1006.7,391.0 A82.8,82.8 0 0 1 1006.7,426.2" fill="none" stroke="#3a2e2c" stroke-width="1.15"/>
<path d="M900.9,487.6 A82.8,82.8 0 0 1 846.8,433.5" fill="none" stroke="#3a2e2c" stroke-width="1.15" stroke-dasharray="14,6"/>
<path d="M943.4,489.5 A82.8,82.8 0 0 1 908.2,489.5" fill="none" stroke="#3a2e2c" stroke-width="1.15"/>
<path d="M846.8,383.7 A82.8,82.8 0 0 1 900.9,329.6" fill="none" stroke="#3a2e2c" stroke-width="1.15" stroke-dasharray="14,6"/>
<path d="M844.9,426.2 A82.8,82.8 0 0 1 844.9,391.0" fill="none" stroke="#3a2e2c" stroke-width="1.15"/>
<path d="M950.7,329.6 A82.8,82.8 0 0 1 1004.8,383.7" fill="none" stroke="#3a2e2c" stroke-width="1.15" stroke-dasharray="14,6"/>
<path d="M908.2,327.7 A82.8,82.8 0 0 1 943.4,327.7" fill="none" stroke="#3a2e2c" stroke-width="1.15"/>
<circle cx="925.8" cy="325.6" r="14.4" fill="none" stroke="#231815" stroke-width="2.4"/>
<circle cx="925.8" cy="325.6" r="8.0" fill="none" stroke="#231815" stroke-width="2.4"/>
<circle cx="925.8" cy="491.6" r="14.4" fill="none" stroke="#231815" stroke-width="2.4"/>
<circle cx="925.8" cy="491.6" r="8.0" fill="none" stroke="#231815" stroke-width="2.4"/>
<circle cx="842.8" cy="408.6" r="14.4" fill="none" stroke="#231815" stroke-width="2.4"/>
<circle cx="842.8" cy="408.6" r="8.0" fill="none" stroke="#231815" stroke-width="2.4"/>
<circle cx="1008.8" cy="408.6" r="14.4" fill="none" stroke="#231815" stroke-width="2.4"/>
<circle cx="1008.8" cy="408.6" r="8.0" fill="none" stroke="#231815" stroke-width="2.4"/>
<line x1="806.0" y1="408.6" x2="863.8" y2="408.6" stroke="#3a2e2c" stroke-width="1.4" stroke-linecap="butt"/>
<line x1="863.8" y1="408.6" x2="892.8" y2="408.6" stroke="#3a2e2c" stroke-width="1.4" stroke-dasharray="8,5" stroke-linecap="butt"/>
<line x1="892.8" y1="408.6" x2="958.8" y2="408.6" stroke="#3a2e2c" stroke-width="1.4" stroke-linecap="butt"/>
<line x1="958.8" y1="408.6" x2="987.8" y2="408.6" stroke="#3a2e2c" stroke-width="1.4" stroke-dasharray="8,5" stroke-linecap="butt"/>
<line x1="987.8" y1="408.6" x2="1046.0" y2="408.6" stroke="#3a2e2c" stroke-width="1.4" stroke-linecap="butt"/>
<line x1="925.8" y1="288.5" x2="925.8" y2="346.6" stroke="#3a2e2c" stroke-width="1.4" stroke-linecap="butt"/>
<line x1="925.8" y1="346.6" x2="925.8" y2="375.6" stroke="#3a2e2c" stroke-width="1.4" stroke-dasharray="8,5" stroke-linecap="butt"/>
<line x1="925.8" y1="375.6" x2="925.8" y2="441.6" stroke="#3a2e2c" stroke-width="1.4" stroke-linecap="butt"/>
<line x1="925.8" y1="441.6" x2="925.8" y2="470.6" stroke="#3a2e2c" stroke-width="1.4" stroke-dasharray="8,5" stroke-linecap="butt"/>
<line x1="925.8" y1="470.6" x2="925.8" y2="529.5" stroke="#3a2e2c" stroke-width="1.4" stroke-linecap="butt"/>
<line x1="867.5" y1="350.3" x2="1029.4" y2="512.2" stroke="#3a2e2c" stroke-width="1.15" stroke-linecap="butt"/>
<line x1="1029.4" y1="512.2" x2="1097.7" y2="512.2" stroke="#3a2e2c" stroke-width="1.15" stroke-linecap="butt"/>
<path d="M867.5,350.3 L879.3,358.3 L875.5,362.1 Z" fill="#231815"/>
<path d="M984.1,466.9 L972.3,458.9 L976.1,455.1 Z" fill="#231815"/>
<text x="1034.7" y="506.3" font-size="24" fill="#231815" textLength="58.8" lengthAdjust="spacingAndGlyphs">P.C.D.</text>
<line x1="895.7" y1="419.0" x2="956.0" y2="398.3" stroke="#3a2e2c" stroke-width="1.15" stroke-linecap="butt"/>
<path d="M895.7,419.0 L908.1,411.9 L909.8,417.0 Z" fill="#231815"/>
<path d="M956.0,398.3 L943.6,405.4 L941.9,400.3 Z" fill="#231815"/>
<text x="928.8" y="402.2" transform="rotate(-17 928.8 402.2)" font-size="26.5" font-weight="bold" fill="#00a0e9" textLength="16.3" lengthAdjust="spacingAndGlyphs">d</text>
<text x="864.3" y="192.8" font-size="28.5" fill="#231815" textLength="116.4" lengthAdjust="spacingAndGlyphs">圆法兰型</text>
<text x="969.5" y="253.5" font-size="25" fill="#231815" textLength="12.0" lengthAdjust="spacingAndGlyphs">4</text>
<line x1="986.1" y1="244.0" x2="1004.0" y2="244.0" stroke="#231815" stroke-width="1.5" stroke-linecap="butt"/>
<text x="1009.4" y="253.9" font-size="27" fill="#231815" textLength="78.9" lengthAdjust="spacingAndGlyphs">安装孔</text>
<line x1="966.3" y1="260.1" x2="1091.0" y2="260.1" stroke="#3a2e2c" stroke-width="1.15" stroke-linecap="butt"/>
<line x1="966.3" y1="260.1" x2="934.0" y2="318.0" stroke="#3a2e2c" stroke-width="1.3" stroke-linecap="butt"/>
<path d="M933.3,319.0 L937.9,305.0 L942.9,307.7 Z" fill="#231815"/>
<path d="M1172.8,305.9 A104,104 0 0 1 1204.2,305.9 L1291.3,393.0 A104,104 0 0 1 1291.3,424.4 L1204.2,511.5 A104,104 0 0 1 1172.8,511.5 L1085.7,424.4 A104,104 0 0 1 1085.7,393.0 Z" fill="none" stroke="#231815" stroke-width="2.6"/>
<circle cx="1188.5" cy="408.7" r="62.0" fill="none" stroke="#231815" stroke-width="2.6"/>
<circle cx="1188.5" cy="408.7" r="33.0" fill="none" stroke="#231815" stroke-width="2.6"/>
<path d="M1267.5,433.6 A82.8,82.8 0 0 1 1213.4,487.7" fill="none" stroke="#3a2e2c" stroke-width="1.15" stroke-dasharray="14,6"/>
<path d="M1269.4,391.1 A82.8,82.8 0 0 1 1269.4,426.3" fill="none" stroke="#3a2e2c" stroke-width="1.15"/>
<path d="M1163.6,487.7 A82.8,82.8 0 0 1 1109.5,433.6" fill="none" stroke="#3a2e2c" stroke-width="1.15" stroke-dasharray="14,6"/>
<path d="M1206.1,489.6 A82.8,82.8 0 0 1 1170.9,489.6" fill="none" stroke="#3a2e2c" stroke-width="1.15"/>
<path d="M1109.5,383.8 A82.8,82.8 0 0 1 1163.6,329.7" fill="none" stroke="#3a2e2c" stroke-width="1.15" stroke-dasharray="14,6"/>
<path d="M1107.6,426.3 A82.8,82.8 0 0 1 1107.6,391.1" fill="none" stroke="#3a2e2c" stroke-width="1.15"/>
<path d="M1213.4,329.7 A82.8,82.8 0 0 1 1267.5,383.8" fill="none" stroke="#3a2e2c" stroke-width="1.15" stroke-dasharray="14,6"/>
<path d="M1170.9,327.8 A82.8,82.8 0 0 1 1206.1,327.8" fill="none" stroke="#3a2e2c" stroke-width="1.15"/>
<circle cx="1188.5" cy="325.7" r="14.4" fill="none" stroke="#231815" stroke-width="2.4"/>
<circle cx="1188.5" cy="325.7" r="8.0" fill="none" stroke="#231815" stroke-width="2.4"/>
<circle cx="1188.5" cy="491.7" r="14.4" fill="none" stroke="#231815" stroke-width="2.4"/>
<circle cx="1188.5" cy="491.7" r="8.0" fill="none" stroke="#231815" stroke-width="2.4"/>
<circle cx="1105.0" cy="408.7" r="14.4" fill="none" stroke="#231815" stroke-width="2.4"/>
<circle cx="1105.0" cy="408.7" r="8.0" fill="none" stroke="#231815" stroke-width="2.4"/>
<circle cx="1272.0" cy="408.7" r="14.4" fill="none" stroke="#231815" stroke-width="2.4"/>
<circle cx="1272.0" cy="408.7" r="8.0" fill="none" stroke="#231815" stroke-width="2.4"/>
<line x1="1080.4" y1="408.7" x2="1126.5" y2="408.7" stroke="#3a2e2c" stroke-width="1.4" stroke-linecap="butt"/>
<line x1="1126.5" y1="408.7" x2="1155.5" y2="408.7" stroke="#3a2e2c" stroke-width="1.4" stroke-dasharray="8,5" stroke-linecap="butt"/>
<line x1="1155.5" y1="408.7" x2="1221.5" y2="408.7" stroke="#3a2e2c" stroke-width="1.4" stroke-linecap="butt"/>
<line x1="1221.5" y1="408.7" x2="1250.5" y2="408.7" stroke="#3a2e2c" stroke-width="1.4" stroke-dasharray="8,5" stroke-linecap="butt"/>
<line x1="1250.5" y1="408.7" x2="1309.0" y2="408.7" stroke="#3a2e2c" stroke-width="1.4" stroke-linecap="butt"/>
<line x1="1188.5" y1="289.0" x2="1188.5" y2="346.7" stroke="#3a2e2c" stroke-width="1.4" stroke-linecap="butt"/>
<line x1="1188.5" y1="346.7" x2="1188.5" y2="375.7" stroke="#3a2e2c" stroke-width="1.4" stroke-dasharray="8,5" stroke-linecap="butt"/>
<line x1="1188.5" y1="375.7" x2="1188.5" y2="441.7" stroke="#3a2e2c" stroke-width="1.4" stroke-linecap="butt"/>
<line x1="1188.5" y1="441.7" x2="1188.5" y2="470.7" stroke="#3a2e2c" stroke-width="1.4" stroke-dasharray="8,5" stroke-linecap="butt"/>
<line x1="1188.5" y1="470.7" x2="1188.5" y2="530.0" stroke="#3a2e2c" stroke-width="1.4" stroke-linecap="butt"/>
<line x1="1130.2" y1="350.4" x2="1292.1" y2="512.3" stroke="#3a2e2c" stroke-width="1.15" stroke-linecap="butt"/>
<line x1="1292.1" y1="512.3" x2="1359.3" y2="512.3" stroke="#3a2e2c" stroke-width="1.15" stroke-linecap="butt"/>
<path d="M1130.2,350.4 L1142.0,358.4 L1138.2,362.2 Z" fill="#231815"/>
<path d="M1246.8,467.0 L1235.0,459.0 L1238.8,455.2 Z" fill="#231815"/>
<text x="1298.4" y="506.5" font-size="24" fill="#231815" textLength="58.1" lengthAdjust="spacingAndGlyphs">P.C.D.</text>
<line x1="1158.4" y1="419.1" x2="1218.7" y2="398.4" stroke="#3a2e2c" stroke-width="1.15" stroke-linecap="butt"/>
<path d="M1158.4,419.1 L1170.8,412.0 L1172.5,417.1 Z" fill="#231815"/>
<path d="M1218.7,398.4 L1206.3,405.5 L1204.6,400.4 Z" fill="#231815"/>
<text x="1191.5" y="402.3" transform="rotate(-17 1191.5 402.3)" font-size="26.5" font-weight="bold" fill="#00a0e9" textLength="16.3" lengthAdjust="spacingAndGlyphs">d</text>
<text x="1133.5" y="192.8" font-size="28.5" fill="#231815" textLength="116.4" lengthAdjust="spacingAndGlyphs">方法兰型</text>
<text x="1232.0" y="253.1" font-size="25" fill="#231815" textLength="12.0" lengthAdjust="spacingAndGlyphs">4</text>
<line x1="1248.6" y1="243.6" x2="1266.5" y2="243.6" stroke="#231815" stroke-width="1.5" stroke-linecap="butt"/>
<text x="1271.9" y="253.5" font-size="27" fill="#231815" textLength="78.9" lengthAdjust="spacingAndGlyphs">安装孔</text>
<line x1="1229.0" y1="260.2" x2="1352.0" y2="260.2" stroke="#3a2e2c" stroke-width="1.15" stroke-linecap="butt"/>
<line x1="1229.0" y1="260.2" x2="1199.0" y2="313.8" stroke="#3a2e2c" stroke-width="1.3" stroke-linecap="butt"/>
<path d="M1198.3,314.8 L1202.9,300.8 L1207.9,303.6 Z" fill="#231815"/>
<line x1="1194.9" y1="296.6" x2="1148.9" y2="250.6" stroke="#3a2e2c" stroke-width="1.15" stroke-linecap="butt"/>
<line x1="1076.4" y1="415.1" x2="1030.4" y2="369.1" stroke="#3a2e2c" stroke-width="1.15" stroke-linecap="butt"/>
<line x1="1156.7" y1="258.4" x2="1038.2" y2="376.9" stroke="#3a2e2c" stroke-width="1.15" stroke-linecap="butt"/>
<path d="M1156.7,258.4 L1147.0,272.1 L1143.0,268.0 Z" fill="#231815"/>
<path d="M1038.2,376.9 L1047.8,363.2 L1051.9,367.2 Z" fill="#231815"/>
<text transform="translate(1085.3,307.5) rotate(-45)" font-size="25" text-anchor="middle" dy="9" fill="#231815" textLength="20" lengthAdjust="spacingAndGlyphs">W</text>
<path d="M1370.6,340.8 A104,104 0 0 1 1528.6,340.8 L1528.6,476.0 A104,104 0 0 1 1370.6,476.0 Z" fill="none" stroke="#231815" stroke-width="2.6"/>
<circle cx="1449.6" cy="408.4" r="62.0" fill="none" stroke="#231815" stroke-width="2.6"/>
<circle cx="1449.6" cy="408.4" r="32.7" fill="none" stroke="#231815" stroke-width="2.6"/>
<circle cx="1449.6" cy="325.1" r="14.4" fill="none" stroke="#231815" stroke-width="2.4"/>
<circle cx="1449.6" cy="325.1" r="8.0" fill="none" stroke="#231815" stroke-width="2.4"/>
<circle cx="1449.6" cy="492.0" r="14.4" fill="none" stroke="#231815" stroke-width="2.4"/>
<circle cx="1449.6" cy="492.0" r="8.0" fill="none" stroke="#231815" stroke-width="2.4"/>
<line x1="1360.0" y1="408.4" x2="1387.6" y2="408.4" stroke="#3a2e2c" stroke-width="1.4" stroke-linecap="butt"/>
<line x1="1387.6" y1="408.4" x2="1416.6" y2="408.4" stroke="#3a2e2c" stroke-width="1.4" stroke-dasharray="8,5" stroke-linecap="butt"/>
<line x1="1416.6" y1="408.4" x2="1482.6" y2="408.4" stroke="#3a2e2c" stroke-width="1.4" stroke-linecap="butt"/>
<line x1="1482.6" y1="408.4" x2="1511.6" y2="408.4" stroke="#3a2e2c" stroke-width="1.4" stroke-dasharray="8,5" stroke-linecap="butt"/>
<line x1="1511.6" y1="408.4" x2="1538.0" y2="408.4" stroke="#3a2e2c" stroke-width="1.4" stroke-linecap="butt"/>
<line x1="1449.6" y1="288.7" x2="1449.6" y2="346.4" stroke="#3a2e2c" stroke-width="1.4" stroke-linecap="butt"/>
<line x1="1449.6" y1="346.4" x2="1449.6" y2="375.4" stroke="#3a2e2c" stroke-width="1.4" stroke-dasharray="8,5" stroke-linecap="butt"/>
<line x1="1449.6" y1="375.4" x2="1449.6" y2="441.4" stroke="#3a2e2c" stroke-width="1.4" stroke-linecap="butt"/>
<line x1="1449.6" y1="441.4" x2="1449.6" y2="470.4" stroke="#3a2e2c" stroke-width="1.4" stroke-dasharray="8,5" stroke-linecap="butt"/>
<line x1="1449.6" y1="470.4" x2="1449.6" y2="528.0" stroke="#3a2e2c" stroke-width="1.4" stroke-linecap="butt"/>
<line x1="1418.5" y1="325.7" x2="1578.5" y2="325.7" stroke="#3a2e2c" stroke-width="1.15" stroke-linecap="butt"/>
<line x1="1418.5" y1="492.0" x2="1578.5" y2="492.0" stroke="#3a2e2c" stroke-width="1.15" stroke-linecap="butt"/>
<line x1="1573.0" y1="325.7" x2="1573.0" y2="492.0" stroke="#3a2e2c" stroke-width="1.15" stroke-linecap="butt"/>
<path d="M1573.0,325.7 L1575.8,342.7 L1570.2,342.7 Z" fill="#231815"/>
<path d="M1573.0,492.0 L1570.2,475.0 L1575.8,475.0 Z" fill="#231815"/>
<text transform="translate(1566.0,408.4) rotate(-90)" font-size="24" text-anchor="middle" fill="#231815" textLength="15" lengthAdjust="spacingAndGlyphs">A</text>
<line x1="1370.6" y1="482.2" x2="1370.6" y2="563.0" stroke="#3a2e2c" stroke-width="1.15" stroke-linecap="butt"/>
<line x1="1528.4" y1="482.2" x2="1528.4" y2="563.0" stroke="#3a2e2c" stroke-width="1.15" stroke-linecap="butt"/>
<line x1="1370.6" y1="557.4" x2="1528.4" y2="557.4" stroke="#3a2e2c" stroke-width="1.15" stroke-linecap="butt"/>
<path d="M1370.9,557.4 L1387.9,554.5 L1387.9,560.2 Z" fill="#231815"/>
<path d="M1528.1,557.4 L1511.1,560.2 L1511.1,554.5 Z" fill="#231815"/>
<text x="1422.8" y="552.8" font-size="26" fill="#231815" textLength="14.5" lengthAdjust="spacingAndGlyphs">D</text>
<line x1="1441.5" y1="543.3" x2="1459.9" y2="543.3" stroke="#231815" stroke-width="1.8" stroke-linecap="butt"/>
<line x1="1450.7" y1="534.4" x2="1450.7" y2="552.1" stroke="#231815" stroke-width="1.8" stroke-linecap="butt"/>
<text x="1464.2" y="552.8" font-size="26" fill="#231815" textLength="13.0" lengthAdjust="spacingAndGlyphs">6</text>
<line x1="1419.5" y1="418.8" x2="1479.8" y2="398.1" stroke="#3a2e2c" stroke-width="1.15" stroke-linecap="butt"/>
<path d="M1419.5,418.8 L1431.9,411.7 L1433.6,416.8 Z" fill="#231815"/>
<path d="M1479.8,398.1 L1467.4,405.2 L1465.7,400.1 Z" fill="#231815"/>
<text x="1452.6" y="402.0" transform="rotate(-17 1452.6 402.0)" font-size="26.5" font-weight="bold" fill="#00a0e9" textLength="16.3" lengthAdjust="spacingAndGlyphs">d</text>
<text x="1394.2" y="230.0" font-size="24" font-weight="bold" fill="#231815" textLength="14.8" lengthAdjust="spacingAndGlyphs">d</text>
<rect x="1412.6" y="217.8" width="16.3" height="2.0" fill="#231815"/>
<rect x="1412.6" y="222.6" width="16.3" height="2.0" fill="#231815"/>
<text x="1432.2" y="230.0" font-size="24.5" font-weight="bold" fill="#231815">6</text>
<path d="M1446.3,223.0 C1449.3,219.0 1453.3,219.0 1456.8,221.7 S1463.8,225.0 1467.3,220.0" fill="none" stroke="#231815" stroke-width="2.0"/>
<text x="1469.8" y="230.0" font-size="24.5" font-weight="bold" fill="#231815">13</text>
<text x="1480.2" y="278.5" font-size="25" fill="#231815" textLength="12.0" lengthAdjust="spacingAndGlyphs">2</text>
<line x1="1496.8" y1="269.0" x2="1514.7" y2="269.0" stroke="#231815" stroke-width="1.5" stroke-linecap="butt"/>
<text x="1520.1" y="278.9" font-size="27" fill="#231815" textLength="78.9" lengthAdjust="spacingAndGlyphs">安装孔</text>
<line x1="1477.0" y1="284.5" x2="1600.0" y2="284.5" stroke="#3a2e2c" stroke-width="1.15" stroke-linecap="butt"/>
<line x1="1477.0" y1="284.5" x2="1459.3" y2="312.8" stroke="#3a2e2c" stroke-width="1.3" stroke-linecap="butt"/>
<path d="M1458.8,313.8 L1464.0,300.0 L1468.9,303.0 Z" fill="#231815"/>
<text x="1506.6" y="193.2" font-size="28.5" fill="#231815" textLength="204.1" lengthAdjust="spacingAndGlyphs">两面切割法兰型</text>
<path d="M1600.2,341.2 A104,104 0 0 1 1758.6,341.2 L1758.6,476.0 A104,104 0 0 1 1600.2,476.0 Z" fill="none" stroke="#231815" stroke-width="2.6"/>
<circle cx="1679.4" cy="408.6" r="62.4" fill="none" stroke="#231815" stroke-width="2.6"/>
<circle cx="1679.4" cy="408.6" r="32.5" fill="none" stroke="#231815" stroke-width="2.6"/>
<circle cx="1624.2" cy="345.5" r="14.7" fill="none" stroke="#231815" stroke-width="2.4"/>
<circle cx="1624.2" cy="345.5" r="8.0" fill="none" stroke="#231815" stroke-width="2.4"/>
<circle cx="1733.9" cy="345.5" r="14.7" fill="none" stroke="#231815" stroke-width="2.4"/>
<circle cx="1733.9" cy="345.5" r="8.0" fill="none" stroke="#231815" stroke-width="2.4"/>
<circle cx="1624.2" cy="471.4" r="14.7" fill="none" stroke="#231815" stroke-width="2.4"/>
<circle cx="1624.2" cy="471.4" r="8.0" fill="none" stroke="#231815" stroke-width="2.4"/>
<circle cx="1733.9" cy="471.4" r="14.7" fill="none" stroke="#231815" stroke-width="2.4"/>
<circle cx="1733.9" cy="471.4" r="8.0" fill="none" stroke="#231815" stroke-width="2.4"/>
<line x1="1590.3" y1="408.6" x2="1617.4" y2="408.6" stroke="#3a2e2c" stroke-width="1.4" stroke-linecap="butt"/>
<line x1="1617.4" y1="408.6" x2="1646.4" y2="408.6" stroke="#3a2e2c" stroke-width="1.4" stroke-dasharray="8,5" stroke-linecap="butt"/>
<line x1="1646.4" y1="408.6" x2="1712.4" y2="408.6" stroke="#3a2e2c" stroke-width="1.4" stroke-linecap="butt"/>
<line x1="1712.4" y1="408.6" x2="1741.4" y2="408.6" stroke="#3a2e2c" stroke-width="1.4" stroke-dasharray="8,5" stroke-linecap="butt"/>
<line x1="1741.4" y1="408.6" x2="1768.7" y2="408.6" stroke="#3a2e2c" stroke-width="1.4" stroke-linecap="butt"/>
<line x1="1679.4" y1="288.6" x2="1679.4" y2="346.6" stroke="#3a2e2c" stroke-width="1.4" stroke-linecap="butt"/>
<line x1="1679.4" y1="346.6" x2="1679.4" y2="375.6" stroke="#3a2e2c" stroke-width="1.4" stroke-dasharray="8,5" stroke-linecap="butt"/>
<line x1="1679.4" y1="375.6" x2="1679.4" y2="441.6" stroke="#3a2e2c" stroke-width="1.4" stroke-linecap="butt"/>
<line x1="1679.4" y1="441.6" x2="1679.4" y2="470.6" stroke="#3a2e2c" stroke-width="1.4" stroke-dasharray="8,5" stroke-linecap="butt"/>
<line x1="1679.4" y1="470.6" x2="1679.4" y2="527.4" stroke="#3a2e2c" stroke-width="1.4" stroke-linecap="butt"/>
<line x1="1624.2" y1="315.2" x2="1624.2" y2="557.0" stroke="#3a2e2c" stroke-width="1.15" stroke-linecap="butt"/>
<line x1="1733.9" y1="315.2" x2="1733.9" y2="557.0" stroke="#3a2e2c" stroke-width="1.15" stroke-linecap="butt"/>
<line x1="1593.3" y1="345.5" x2="1655.2" y2="345.5" stroke="#3a2e2c" stroke-width="1.15" stroke-linecap="butt"/>
<line x1="1702.3" y1="345.5" x2="1808.5" y2="345.5" stroke="#3a2e2c" stroke-width="1.15" stroke-linecap="butt"/>
<line x1="1593.3" y1="471.4" x2="1655.2" y2="471.4" stroke="#3a2e2c" stroke-width="1.15" stroke-linecap="butt"/>
<line x1="1702.3" y1="471.4" x2="1808.5" y2="471.4" stroke="#3a2e2c" stroke-width="1.15" stroke-linecap="butt"/>
<line x1="1802.6" y1="345.5" x2="1802.6" y2="471.4" stroke="#3a2e2c" stroke-width="1.15" stroke-linecap="butt"/>
<path d="M1802.6,345.5 L1805.4,362.5 L1799.8,362.5 Z" fill="#231815"/>
<path d="M1802.6,471.4 L1799.8,454.4 L1805.4,454.4 Z" fill="#231815"/>
<text transform="translate(1796.7,408.8) rotate(-90)" font-size="24" text-anchor="middle" fill="#231815" textLength="15" lengthAdjust="spacingAndGlyphs">A</text>
<line x1="1624.2" y1="551.0" x2="1733.9" y2="551.0" stroke="#3a2e2c" stroke-width="1.15" stroke-linecap="butt"/>
<path d="M1624.5,551.0 L1641.5,548.1 L1641.5,553.9 Z" fill="#231815"/>
<path d="M1733.6,551.0 L1716.6,553.9 L1716.6,548.1 Z" fill="#231815"/>
<text x="1674.5" y="549.6" font-size="24" fill="#231815" textLength="11.0" lengthAdjust="spacingAndGlyphs">F</text>
<line x1="1600.0" y1="483.2" x2="1600.0" y2="593.8" stroke="#3a2e2c" stroke-width="1.15" stroke-linecap="butt"/>
<line x1="1758.4" y1="483.2" x2="1758.4" y2="593.8" stroke="#3a2e2c" stroke-width="1.15" stroke-linecap="butt"/>
<line x1="1600.0" y1="587.9" x2="1758.4" y2="587.9" stroke="#3a2e2c" stroke-width="1.15" stroke-linecap="butt"/>
<path d="M1600.3,587.9 L1617.3,585.0 L1617.3,590.8 Z" fill="#231815"/>
<path d="M1758.1,587.9 L1741.1,590.8 L1741.1,585.0 Z" fill="#231815"/>
<text x="1651.0" y="582.5" font-size="26" fill="#231815" textLength="14.5" lengthAdjust="spacingAndGlyphs">D</text>
<line x1="1669.7" y1="573.0" x2="1688.1" y2="573.0" stroke="#231815" stroke-width="1.8" stroke-linecap="butt"/>
<line x1="1678.9" y1="564.1" x2="1678.9" y2="581.8" stroke="#231815" stroke-width="1.8" stroke-linecap="butt"/>
<text x="1692.4" y="582.5" font-size="26" fill="#231815" textLength="13.0" lengthAdjust="spacingAndGlyphs">6</text>
<line x1="1649.3" y1="419.0" x2="1709.6" y2="398.3" stroke="#3a2e2c" stroke-width="1.15" stroke-linecap="butt"/>
<path d="M1649.3,419.0 L1661.7,411.9 L1663.4,417.0 Z" fill="#231815"/>
<path d="M1709.6,398.3 L1697.2,405.4 L1695.5,400.3 Z" fill="#231815"/>
<text x="1682.4" y="402.2" transform="rotate(-17 1682.4 402.2)" font-size="26.5" font-weight="bold" fill="#00a0e9" textLength="16.3" lengthAdjust="spacingAndGlyphs">d</text>
<text x="1618.8" y="230.0" font-size="24" font-weight="bold" fill="#231815" textLength="14.8" lengthAdjust="spacingAndGlyphs">d</text>
<rect x="1637.2" y="217.8" width="16.3" height="2.0" fill="#231815"/>
<rect x="1637.2" y="222.6" width="16.3" height="2.0" fill="#231815"/>
<text x="1656.8" y="230.0" font-size="24.5" font-weight="bold" fill="#231815">16</text>
<path d="M1684.5,223.0 C1687.5,219.0 1691.5,219.0 1695.0,221.7 S1702.0,225.0 1705.5,220.0" fill="none" stroke="#231815" stroke-width="2.0"/>
<text x="1708.0" y="230.0" font-size="24.5" font-weight="bold" fill="#231815">30</text>
<text x="1666.2" y="278.5" font-size="25" fill="#231815" textLength="12.0" lengthAdjust="spacingAndGlyphs">4</text>
<line x1="1682.8" y1="269.0" x2="1700.7" y2="269.0" stroke="#231815" stroke-width="1.5" stroke-linecap="butt"/>
<text x="1706.1" y="278.9" font-size="27" fill="#231815" textLength="78.9" lengthAdjust="spacingAndGlyphs">安装孔</text>
<line x1="1665.5" y1="284.8" x2="1786.4" y2="284.8" stroke="#3a2e2c" stroke-width="1.15" stroke-linecap="butt"/>
<line x1="1665.5" y1="284.8" x2="1635.2" y2="334.8" stroke="#3a2e2c" stroke-width="1.3" stroke-linecap="butt"/>
<path d="M1634.5,335.8 L1639.6,321.9 L1644.5,324.9 Z" fill="#231815"/>
<circle cx="427.0" cy="681.0" r="11.0" fill="none" stroke="#e4007f" stroke-width="1.4"/>
<path d="M421.2,676.0 C421.0,671.4 433.0,671.4 432.8,676.0 C432.6,679.0 428.4,680.2 428.1,683.6 L425.9,683.6 C425.6,680.2 421.4,679.0 421.2,676.0 Z" fill="#e4007f"/>
<circle cx="427.0" cy="687.5" r="2.5" fill="#e4007f" stroke="#231815" stroke-width="0"/>
<text x="440.9" y="689.9" font-size="23.5" fill="#231815" textLength="407.8" lengthAdjust="spacingAndGlyphs">肩部底面与D部之间垂直度在0.02以内。</text>
<path d="M901.0,601.6 L900.3,594.7 M901.0,601.6 L896.2,599.5 M901.0,601.6 L905.9,599.5 M901.0,601.6 L897.9,607.8 M901.0,601.6 L904.2,607.3 " stroke="#231815" stroke-width="2.18" fill="none"/>
<text x="909.6" y="609.7" font-size="23.5" fill="#231815" textLength="167.3" lengthAdjust="spacingAndGlyphs">固定座避让部分</text>
<text x="911.6" y="649.8" font-size="23" fill="#231815" textLength="108.3" lengthAdjust="spacingAndGlyphs">D≤28时为</text>
<text x="911.6" y="684.6" font-size="23" fill="#231815" textLength="108.3" lengthAdjust="spacingAndGlyphs">D≥32时为</text>
<line x1="1022.8" y1="631.3" x2="1037.7" y2="631.3" stroke="#231815" stroke-width="1.4" stroke-linecap="butt"/>
<line x1="1022.8" y1="649.7" x2="1037.7" y2="649.7" stroke="#231815" stroke-width="1.4" stroke-linecap="butt"/>
<text x="1039.6" y="638.3" font-size="18" font-family="Liberation Serif" fill="#231815">0.1</text>
<text x="1039.6" y="655.7" font-size="18" font-family="Liberation Serif" fill="#231815">0.3</text>
<line x1="1022.8" y1="666.1" x2="1037.7" y2="666.1" stroke="#231815" stroke-width="1.4" stroke-linecap="butt"/>
<line x1="1022.8" y1="684.5" x2="1037.7" y2="684.5" stroke="#231815" stroke-width="1.4" stroke-linecap="butt"/>
<text x="1039.6" y="673.1" font-size="18" font-family="Liberation Serif" fill="#231815">0.3</text>
<text x="1039.6" y="690.5" font-size="18" font-family="Liberation Serif" fill="#231815">0.5</text>
<circle cx="1149.8" cy="600.4" r="11.0" fill="none" stroke="#e4007f" stroke-width="1.4"/>
<path d="M1144.0,595.4 C1143.8,590.8 1155.8,590.8 1155.6,595.4 C1155.4,598.4 1151.2,599.6 1150.9,603.0 L1148.7,603.0 C1148.4,599.6 1144.2,598.4 1144.0,595.4 Z" fill="#e4007f"/>
<circle cx="1149.8" cy="606.9" r="2.5" fill="#e4007f" stroke="#231815" stroke-width="0"/>
<text x="1163.7" y="609.6" font-size="23" fill="#231815" textLength="117.9" lengthAdjust="spacingAndGlyphs">推荐配套轴</text>
<text x="1164.2" y="639.3" font-size="21.5" fill="#231815" textLength="63.2" lengthAdjust="spacingAndGlyphs">f8或g6</text>
<rect x="19.0" y="734.4" width="1794.7" height="70.6" fill="#f8d0d1"/>
<line x1="19.0" y1="734.4" x2="1813.7" y2="734.4" stroke="#231815" stroke-width="3.0" stroke-linecap="butt"/>
<line x1="19.0" y1="805.0" x2="1813.7" y2="805.0" stroke="#231815" stroke-width="3.0" stroke-linecap="butt"/>
<line x1="19.0" y1="1123.6" x2="1813.7" y2="1123.6" stroke="#231815" stroke-width="3.0" stroke-linecap="butt"/>
<line x1="19.0" y1="770.0" x2="556.3" y2="770.0" stroke="#3a2e2c" stroke-width="1.4" stroke-linecap="butt"/>
<line x1="638.4" y1="770.0" x2="739.2" y2="770.0" stroke="#3a2e2c" stroke-width="1.4" stroke-linecap="butt"/>
<line x1="373.3" y1="770.0" x2="373.3" y2="1123.6" stroke="#3a2e2c" stroke-width="1.4" stroke-linecap="butt"/>
<line x1="455.6" y1="770.0" x2="455.6" y2="1123.6" stroke="#3a2e2c" stroke-width="1.4" stroke-linecap="butt"/>
<line x1="556.3" y1="732.9" x2="556.3" y2="1125.1" stroke="#231815" stroke-width="3.0" stroke-linecap="butt"/>
<line x1="638.4" y1="770.0" x2="638.4" y2="1123.6" stroke="#3a2e2c" stroke-width="1.4" stroke-linecap="butt"/>
<line x1="739.2" y1="734.4" x2="739.2" y2="1123.6" stroke="#3a2e2c" stroke-width="1.4" stroke-linecap="butt"/>
<line x1="821.7" y1="734.4" x2="821.7" y2="1123.6" stroke="#3a2e2c" stroke-width="1.4" stroke-linecap="butt"/>
<line x1="904.3" y1="734.4" x2="904.3" y2="1123.6" stroke="#3a2e2c" stroke-width="1.4" stroke-linecap="butt"/>
<line x1="987.1" y1="734.4" x2="987.1" y2="1123.6" stroke="#3a2e2c" stroke-width="1.4" stroke-linecap="butt"/>
<line x1="1069.6" y1="734.4" x2="1069.6" y2="1123.6" stroke="#3a2e2c" stroke-width="1.4" stroke-linecap="butt"/>
<line x1="1152.4" y1="734.4" x2="1152.4" y2="1123.6" stroke="#3a2e2c" stroke-width="1.4" stroke-linecap="butt"/>
<line x1="1235.1" y1="734.4" x2="1235.1" y2="1123.6" stroke="#3a2e2c" stroke-width="1.4" stroke-linecap="butt"/>
<line x1="1317.5" y1="734.4" x2="1317.5" y2="1123.6" stroke="#3a2e2c" stroke-width="1.4" stroke-linecap="butt"/>
<line x1="1400.5" y1="734.4" x2="1400.5" y2="1123.6" stroke="#3a2e2c" stroke-width="1.4" stroke-linecap="butt"/>
<line x1="1483.0" y1="734.4" x2="1483.0" y2="1123.6" stroke="#3a2e2c" stroke-width="1.4" stroke-linecap="butt"/>
<line x1="1565.7" y1="734.4" x2="1565.7" y2="1123.6" stroke="#3a2e2c" stroke-width="1.4" stroke-linecap="butt"/>
<line x1="1648.4" y1="734.4" x2="1648.4" y2="1123.6" stroke="#3a2e2c" stroke-width="1.4" stroke-linecap="butt"/>
<line x1="1731.3" y1="734.4" x2="1731.3" y2="1123.6" stroke="#3a2e2c" stroke-width="1.4" stroke-linecap="butt"/>
<line x1="373.3" y1="840.4" x2="455.6" y2="840.4" stroke="#3a2e2c" stroke-width="1.4" stroke-linecap="butt"/>
<line x1="373.3" y1="875.8" x2="455.6" y2="875.8" stroke="#3a2e2c" stroke-width="1.4" stroke-linecap="butt"/>
<line x1="373.3" y1="911.2" x2="455.6" y2="911.2" stroke="#3a2e2c" stroke-width="1.4" stroke-linecap="butt"/>
<line x1="373.3" y1="946.6" x2="455.6" y2="946.6" stroke="#3a2e2c" stroke-width="1.4" stroke-linecap="butt"/>
<line x1="373.3" y1="982.0" x2="455.6" y2="982.0" stroke="#3a2e2c" stroke-width="1.4" stroke-linecap="butt"/>
<line x1="373.3" y1="1017.4" x2="455.6" y2="1017.4" stroke="#3a2e2c" stroke-width="1.4" stroke-linecap="butt"/>
<line x1="373.3" y1="1052.8" x2="455.6" y2="1052.8" stroke="#3a2e2c" stroke-width="1.4" stroke-linecap="butt"/>
<line x1="373.3" y1="1088.2" x2="455.6" y2="1088.2" stroke="#3a2e2c" stroke-width="1.4" stroke-linecap="butt"/>
<line x1="455.6" y1="840.4" x2="556.3" y2="840.4" stroke="#3a2e2c" stroke-width="1.4" stroke-linecap="butt"/>
<line x1="455.6" y1="911.2" x2="556.3" y2="911.2" stroke="#3a2e2c" stroke-width="1.4" stroke-linecap="butt"/>
<line x1="455.6" y1="1017.4" x2="556.3" y2="1017.4" stroke="#3a2e2c" stroke-width="1.4" stroke-linecap="butt"/>
<line x1="556.3" y1="840.4" x2="638.4" y2="840.4" stroke="#3a2e2c" stroke-width="1.4" stroke-linecap="butt"/>
<line x1="556.3" y1="875.8" x2="638.4" y2="875.8" stroke="#3a2e2c" stroke-width="1.4" stroke-linecap="butt"/>
<line x1="556.3" y1="911.2" x2="638.4" y2="911.2" stroke="#3a2e2c" stroke-width="1.4" stroke-linecap="butt"/>
<line x1="556.3" y1="946.6" x2="638.4" y2="946.6" stroke="#3a2e2c" stroke-width="1.4" stroke-linecap="butt"/>
<line x1="556.3" y1="982.0" x2="638.4" y2="982.0" stroke="#3a2e2c" stroke-width="1.4" stroke-linecap="butt"/>
<line x1="556.3" y1="1017.4" x2="638.4" y2="1017.4" stroke="#3a2e2c" stroke-width="1.4" stroke-linecap="butt"/>
<line x1="556.3" y1="1052.8" x2="638.4" y2="1052.8" stroke="#3a2e2c" stroke-width="1.4" stroke-linecap="butt"/>
<line x1="556.3" y1="1088.2" x2="638.4" y2="1088.2" stroke="#3a2e2c" stroke-width="1.4" stroke-linecap="butt"/>
<line x1="638.4" y1="875.8" x2="739.2" y2="875.8" stroke="#3a2e2c" stroke-width="1.4" stroke-linecap="butt"/>
<line x1="638.4" y1="1017.4" x2="739.2" y2="1017.4" stroke="#3a2e2c" stroke-width="1.4" stroke-linecap="butt"/>
<line x1="739.2" y1="840.4" x2="821.7" y2="840.4" stroke="#3a2e2c" stroke-width="1.4" stroke-linecap="butt"/>
<line x1="739.2" y1="875.8" x2="821.7" y2="875.8" stroke="#3a2e2c" stroke-width="1.4" stroke-linecap="butt"/>
<line x1="739.2" y1="911.2" x2="821.7" y2="911.2" stroke="#3a2e2c" stroke-width="1.4" stroke-linecap="butt"/>
<line x1="739.2" y1="946.6" x2="821.7" y2="946.6" stroke="#3a2e2c" stroke-width="1.4" stroke-linecap="butt"/>
<line x1="739.2" y1="982.0" x2="821.7" y2="982.0" stroke="#3a2e2c" stroke-width="1.4" stroke-linecap="butt"/>
<line x1="739.2" y1="1017.4" x2="821.7" y2="1017.4" stroke="#3a2e2c" stroke-width="1.4" stroke-linecap="butt"/>
<line x1="739.2" y1="1052.8" x2="821.7" y2="1052.8" stroke="#3a2e2c" stroke-width="1.4" stroke-linecap="butt"/>
<line x1="739.2" y1="1088.2" x2="821.7" y2="1088.2" stroke="#3a2e2c" stroke-width="1.4" stroke-linecap="butt"/>
<line x1="821.7" y1="840.4" x2="904.3" y2="840.4" stroke="#3a2e2c" stroke-width="1.4" stroke-linecap="butt"/>
<line x1="821.7" y1="875.8" x2="904.3" y2="875.8" stroke="#3a2e2c" stroke-width="1.4" stroke-linecap="butt"/>
<line x1="821.7" y1="982.0" x2="904.3" y2="982.0" stroke="#3a2e2c" stroke-width="1.4" stroke-linecap="butt"/>
<line x1="821.7" y1="1017.4" x2="904.3" y2="1017.4" stroke="#3a2e2c" stroke-width="1.4" stroke-linecap="butt"/>
<line x1="821.7" y1="1052.8" x2="904.3" y2="1052.8" stroke="#3a2e2c" stroke-width="1.4" stroke-linecap="butt"/>
<line x1="821.7" y1="1088.2" x2="904.3" y2="1088.2" stroke="#3a2e2c" stroke-width="1.4" stroke-linecap="butt"/>
<line x1="904.3" y1="911.2" x2="987.1" y2="911.2" stroke="#3a2e2c" stroke-width="1.4" stroke-linecap="butt"/>
<line x1="987.1" y1="840.4" x2="1069.6" y2="840.4" stroke="#3a2e2c" stroke-width="1.4" stroke-linecap="butt"/>
<line x1="987.1" y1="875.8" x2="1069.6" y2="875.8" stroke="#3a2e2c" stroke-width="1.4" stroke-linecap="butt"/>
<line x1="987.1" y1="982.0" x2="1069.6" y2="982.0" stroke="#3a2e2c" stroke-width="1.4" stroke-linecap="butt"/>
<line x1="987.1" y1="1017.4" x2="1069.6" y2="1017.4" stroke="#3a2e2c" stroke-width="1.4" stroke-linecap="butt"/>
<line x1="987.1" y1="1052.8" x2="1069.6" y2="1052.8" stroke="#3a2e2c" stroke-width="1.4" stroke-linecap="butt"/>
<line x1="987.1" y1="1088.2" x2="1069.6" y2="1088.2" stroke="#3a2e2c" stroke-width="1.4" stroke-linecap="butt"/>
<line x1="1069.6" y1="840.4" x2="1152.4" y2="840.4" stroke="#3a2e2c" stroke-width="1.4" stroke-linecap="butt"/>
<line x1="1069.6" y1="875.8" x2="1152.4" y2="875.8" stroke="#3a2e2c" stroke-width="1.4" stroke-linecap="butt"/>
<line x1="1069.6" y1="911.2" x2="1152.4" y2="911.2" stroke="#3a2e2c" stroke-width="1.4" stroke-linecap="butt"/>
<line x1="1069.6" y1="946.6" x2="1152.4" y2="946.6" stroke="#3a2e2c" stroke-width="1.4" stroke-linecap="butt"/>
<line x1="1069.6" y1="982.0" x2="1152.4" y2="982.0" stroke="#3a2e2c" stroke-width="1.4" stroke-linecap="butt"/>
<line x1="1069.6" y1="1017.4" x2="1152.4" y2="1017.4" stroke="#3a2e2c" stroke-width="1.4" stroke-linecap="butt"/>
<line x1="1069.6" y1="1052.8" x2="1152.4" y2="1052.8" stroke="#3a2e2c" stroke-width="1.4" stroke-linecap="butt"/>
<line x1="1069.6" y1="1088.2" x2="1152.4" y2="1088.2" stroke="#3a2e2c" stroke-width="1.4" stroke-linecap="butt"/>
<line x1="1152.4" y1="875.8" x2="1235.1" y2="875.8" stroke="#3a2e2c" stroke-width="1.4" stroke-linecap="butt"/>
<line x1="1152.4" y1="1017.4" x2="1235.1" y2="1017.4" stroke="#3a2e2c" stroke-width="1.4" stroke-linecap="butt"/>
<line x1="1152.4" y1="1088.2" x2="1235.1" y2="1088.2" stroke="#3a2e2c" stroke-width="1.4" stroke-linecap="butt"/>
<line x1="1235.1" y1="875.8" x2="1317.5" y2="875.8" stroke="#3a2e2c" stroke-width="1.4" stroke-linecap="butt"/>
<line x1="1235.1" y1="1017.4" x2="1317.5" y2="1017.4" stroke="#3a2e2c" stroke-width="1.4" stroke-linecap="butt"/>
<line x1="1235.1" y1="1088.2" x2="1317.5" y2="1088.2" stroke="#3a2e2c" stroke-width="1.4" stroke-linecap="butt"/>
<line x1="1317.5" y1="875.8" x2="1400.5" y2="875.8" stroke="#3a2e2c" stroke-width="1.4" stroke-linecap="butt"/>
<line x1="1317.5" y1="1017.4" x2="1400.5" y2="1017.4" stroke="#3a2e2c" stroke-width="1.4" stroke-linecap="butt"/>
<line x1="1317.5" y1="1088.2" x2="1400.5" y2="1088.2" stroke="#3a2e2c" stroke-width="1.4" stroke-linecap="butt"/>
<line x1="1400.5" y1="875.8" x2="1483.0" y2="875.8" stroke="#3a2e2c" stroke-width="1.4" stroke-linecap="butt"/>
<line x1="1400.5" y1="1017.4" x2="1483.0" y2="1017.4" stroke="#3a2e2c" stroke-width="1.4" stroke-linecap="butt"/>
<line x1="1400.5" y1="1088.2" x2="1483.0" y2="1088.2" stroke="#3a2e2c" stroke-width="1.4" stroke-linecap="butt"/>
<line x1="1483.0" y1="840.4" x2="1565.7" y2="840.4" stroke="#3a2e2c" stroke-width="1.4" stroke-linecap="butt"/>
<line x1="1483.0" y1="875.8" x2="1565.7" y2="875.8" stroke="#3a2e2c" stroke-width="1.4" stroke-linecap="butt"/>
<line x1="1483.0" y1="911.2" x2="1565.7" y2="911.2" stroke="#3a2e2c" stroke-width="1.4" stroke-linecap="butt"/>
<line x1="1483.0" y1="946.6" x2="1565.7" y2="946.6" stroke="#3a2e2c" stroke-width="1.4" stroke-linecap="butt"/>
<line x1="1483.0" y1="982.0" x2="1565.7" y2="982.0" stroke="#3a2e2c" stroke-width="1.4" stroke-linecap="butt"/>
<line x1="1483.0" y1="1017.4" x2="1565.7" y2="1017.4" stroke="#3a2e2c" stroke-width="1.4" stroke-linecap="butt"/>
<line x1="1483.0" y1="1052.8" x2="1565.7" y2="1052.8" stroke="#3a2e2c" stroke-width="1.4" stroke-linecap="butt"/>
<line x1="1483.0" y1="1088.2" x2="1565.7" y2="1088.2" stroke="#3a2e2c" stroke-width="1.4" stroke-linecap="butt"/>
<line x1="1565.7" y1="840.4" x2="1648.4" y2="840.4" stroke="#3a2e2c" stroke-width="1.4" stroke-linecap="butt"/>
<line x1="1565.7" y1="875.8" x2="1648.4" y2="875.8" stroke="#3a2e2c" stroke-width="1.4" stroke-linecap="butt"/>
<line x1="1565.7" y1="911.2" x2="1648.4" y2="911.2" stroke="#3a2e2c" stroke-width="1.4" stroke-linecap="butt"/>
<line x1="1565.7" y1="946.6" x2="1648.4" y2="946.6" stroke="#3a2e2c" stroke-width="1.4" stroke-linecap="butt"/>
<line x1="1565.7" y1="982.0" x2="1648.4" y2="982.0" stroke="#3a2e2c" stroke-width="1.4" stroke-linecap="butt"/>
<line x1="1565.7" y1="1017.4" x2="1648.4" y2="1017.4" stroke="#3a2e2c" stroke-width="1.4" stroke-linecap="butt"/>
<line x1="1565.7" y1="1052.8" x2="1648.4" y2="1052.8" stroke="#3a2e2c" stroke-width="1.4" stroke-linecap="butt"/>
<line x1="1565.7" y1="1088.2" x2="1648.4" y2="1088.2" stroke="#3a2e2c" stroke-width="1.4" stroke-linecap="butt"/>
<line x1="1648.4" y1="840.4" x2="1731.3" y2="840.4" stroke="#3a2e2c" stroke-width="1.4" stroke-linecap="butt"/>
<line x1="1648.4" y1="875.8" x2="1731.3" y2="875.8" stroke="#3a2e2c" stroke-width="1.4" stroke-linecap="butt"/>
<line x1="1648.4" y1="911.2" x2="1731.3" y2="911.2" stroke="#3a2e2c" stroke-width="1.4" stroke-linecap="butt"/>
<line x1="1648.4" y1="946.6" x2="1731.3" y2="946.6" stroke="#3a2e2c" stroke-width="1.4" stroke-linecap="butt"/>
<line x1="1648.4" y1="982.0" x2="1731.3" y2="982.0" stroke="#3a2e2c" stroke-width="1.4" stroke-linecap="butt"/>
<line x1="1648.4" y1="1017.4" x2="1731.3" y2="1017.4" stroke="#3a2e2c" stroke-width="1.4" stroke-linecap="butt"/>
<line x1="1648.4" y1="1052.8" x2="1731.3" y2="1052.8" stroke="#3a2e2c" stroke-width="1.4" stroke-linecap="butt"/>
<line x1="1648.4" y1="1088.2" x2="1731.3" y2="1088.2" stroke="#3a2e2c" stroke-width="1.4" stroke-linecap="butt"/>
<line x1="1731.3" y1="840.4" x2="1813.7" y2="840.4" stroke="#3a2e2c" stroke-width="1.4" stroke-linecap="butt"/>
<line x1="1731.3" y1="875.8" x2="1813.7" y2="875.8" stroke="#3a2e2c" stroke-width="1.4" stroke-linecap="butt"/>
<line x1="1731.3" y1="911.2" x2="1813.7" y2="911.2" stroke="#3a2e2c" stroke-width="1.4" stroke-linecap="butt"/>
<line x1="1731.3" y1="946.6" x2="1813.7" y2="946.6" stroke="#3a2e2c" stroke-width="1.4" stroke-linecap="butt"/>
<line x1="1731.3" y1="982.0" x2="1813.7" y2="982.0" stroke="#3a2e2c" stroke-width="1.4" stroke-linecap="butt"/>
<line x1="1731.3" y1="1017.4" x2="1813.7" y2="1017.4" stroke="#3a2e2c" stroke-width="1.4" stroke-linecap="butt"/>
<line x1="1731.3" y1="1052.8" x2="1813.7" y2="1052.8" stroke="#3a2e2c" stroke-width="1.4" stroke-linecap="butt"/>
<line x1="1731.3" y1="1088.2" x2="1813.7" y2="1088.2" stroke="#3a2e2c" stroke-width="1.4" stroke-linecap="butt"/>
<text x="263.9" y="760.6" font-size="23" fill="#231815" textLength="46.8" lengthAdjust="spacingAndGlyphs">型式</text>
<text x="170.0" y="796.6" font-size="23.5" font-weight="bold" fill="#231815" textLength="52.7" lengthAdjust="spacingAndGlyphs">Type</text>
<text x="414.5" y="795.9" font-size="23.5" font-weight="bold" text-anchor="middle" fill="#231815">d</text>
<text x="482.2" y="795.6" font-size="23" fill="#231815" textLength="47.5" lengthAdjust="spacingAndGlyphs">容差</text>
<text x="666.0" y="795.6" font-size="23" fill="#231815" textLength="46.4" lengthAdjust="spacingAndGlyphs">容差</text>
<text x="597.5" y="778.2" font-size="24" font-weight="bold" text-anchor="middle" fill="#231815">D</text>
<text x="780.5" y="777.8" font-size="23.5" font-weight="bold" text-anchor="middle" fill="#231815">Da</text>
<text x="863.0" y="777.8" font-size="23.5" font-weight="bold" text-anchor="middle" fill="#231815">L</text>
<text x="1111.0" y="777.8" font-size="23.5" font-weight="bold" text-anchor="middle" fill="#231815">H</text>
<text x="1193.8" y="777.8" font-size="23.5" font-weight="bold" text-anchor="middle" fill="#231815">T</text>
<text x="1441.8" y="777.8" font-size="23.5" font-weight="bold" text-anchor="middle" fill="#231815">t</text>
<text x="1524.3" y="777.8" font-size="23.5" font-weight="bold" text-anchor="middle" fill="#231815" textLength="69.0" lengthAdjust="spacingAndGlyphs">P.C.D.</text>
<text x="1607.1" y="777.8" font-size="23.5" font-weight="bold" text-anchor="middle" fill="#231815">W</text>
<text x="1689.8" y="777.8" font-size="23.5" font-weight="bold" text-anchor="middle" fill="#231815">F</text>
<text x="1772.5" y="777.8" font-size="23.5" font-weight="bold" text-anchor="middle" fill="#231815">A</text>
<text x="934.4" y="777.8" font-size="23.5" font-weight="bold" fill="#231815">L</text>
<text x="949.2" y="777.8" font-size="16" fill="#231815">1</text>
<text x="1021.3" y="779.5" font-size="29" font-style="italic" font-family="Liberation Serif" fill="#231815" stroke="#231815" stroke-width="0.3">ℓ</text>
<text x="1265.0" y="777.8" font-size="23.5" font-weight="bold" fill="#231815">d</text>
<text x="1279.8" y="777.8" font-size="16" fill="#231815">1</text>
<text x="1347.7" y="777.8" font-size="23.5" font-weight="bold" fill="#231815">d</text>
<text x="1362.5" y="777.8" font-size="16" fill="#231815">2</text>
<text x="414.5" y="832.3" font-size="24.5" font-weight="bold" text-anchor="middle" fill="#00a0e9">6</text>
<text x="597.3" y="832.2" font-size="23.2" text-anchor="middle" fill="#231815" textLength="22.7" lengthAdjust="spacingAndGlyphs">12</text>
<text x="780.5" y="832.2" font-size="23.2" text-anchor="middle" fill="#231815" textLength="39.7" lengthAdjust="spacingAndGlyphs">11.8</text>
<text x="1111.0" y="832.2" font-size="23.2" text-anchor="middle" fill="#231815" textLength="22.7" lengthAdjust="spacingAndGlyphs">28</text>
<text x="1524.3" y="832.2" font-size="23.2" text-anchor="middle" fill="#231815" textLength="22.7" lengthAdjust="spacingAndGlyphs">20</text>
<text x="1607.1" y="832.2" font-size="23.2" text-anchor="middle" fill="#231815" textLength="22.7" lengthAdjust="spacingAndGlyphs">22</text>
<line x1="1681.8" y1="823.7" x2="1697.8" y2="823.7" stroke="#231815" stroke-width="1.6" stroke-linecap="butt"/>
<text x="1772.5" y="832.2" font-size="23.2" text-anchor="middle" fill="#231815" textLength="22.7" lengthAdjust="spacingAndGlyphs">20</text>
<text x="414.5" y="867.7" font-size="24.5" font-weight="bold" text-anchor="middle" fill="#00a0e9">8</text>
<text x="597.3" y="867.6" font-size="23.2" text-anchor="middle" fill="#231815" textLength="22.7" lengthAdjust="spacingAndGlyphs">15</text>
<text x="780.5" y="867.6" font-size="23.2" text-anchor="middle" fill="#231815" textLength="39.7" lengthAdjust="spacingAndGlyphs">14.8</text>
<text x="1111.0" y="867.6" font-size="23.2" text-anchor="middle" fill="#231815" textLength="22.7" lengthAdjust="spacingAndGlyphs">32</text>
<text x="1524.3" y="867.6" font-size="23.2" text-anchor="middle" fill="#231815" textLength="22.7" lengthAdjust="spacingAndGlyphs">24</text>
<text x="1607.1" y="867.6" font-size="23.2" text-anchor="middle" fill="#231815" textLength="22.7" lengthAdjust="spacingAndGlyphs">25</text>
<line x1="1681.8" y1="859.1" x2="1697.8" y2="859.1" stroke="#231815" stroke-width="1.6" stroke-linecap="butt"/>
<text x="1772.5" y="867.6" font-size="23.2" text-anchor="middle" fill="#231815" textLength="22.7" lengthAdjust="spacingAndGlyphs">24</text>
<text x="414.5" y="903.1" font-size="24.5" font-weight="bold" text-anchor="middle" fill="#00a0e9">10</text>
<text x="597.3" y="903.0" font-size="23.2" text-anchor="middle" fill="#231815" textLength="22.7" lengthAdjust="spacingAndGlyphs">19</text>
<text x="780.5" y="903.0" font-size="23.2" text-anchor="middle" fill="#231815" textLength="39.7" lengthAdjust="spacingAndGlyphs">18.8</text>
<text x="1111.0" y="903.0" font-size="23.2" text-anchor="middle" fill="#231815" textLength="22.7" lengthAdjust="spacingAndGlyphs">40</text>
<text x="1524.3" y="903.0" font-size="23.2" text-anchor="middle" fill="#231815" textLength="22.7" lengthAdjust="spacingAndGlyphs">29</text>
<text x="1607.1" y="903.0" font-size="23.2" text-anchor="middle" fill="#231815" textLength="22.7" lengthAdjust="spacingAndGlyphs">30</text>
<line x1="1681.8" y1="894.5" x2="1697.8" y2="894.5" stroke="#231815" stroke-width="1.6" stroke-linecap="butt"/>
<text x="1772.5" y="903.0" font-size="23.2" text-anchor="middle" fill="#231815" textLength="22.7" lengthAdjust="spacingAndGlyphs">29</text>
<text x="414.5" y="938.5" font-size="24.5" font-weight="bold" text-anchor="middle" fill="#00a0e9">12</text>
<text x="597.3" y="938.4" font-size="23.2" text-anchor="middle" fill="#231815" textLength="22.7" lengthAdjust="spacingAndGlyphs">21</text>
<text x="780.5" y="938.4" font-size="23.2" text-anchor="middle" fill="#231815" textLength="39.7" lengthAdjust="spacingAndGlyphs">20.8</text>
<text x="1111.0" y="938.4" font-size="23.2" text-anchor="middle" fill="#231815" textLength="22.7" lengthAdjust="spacingAndGlyphs">42</text>
<text x="1524.3" y="938.4" font-size="23.2" text-anchor="middle" fill="#231815" textLength="22.7" lengthAdjust="spacingAndGlyphs">32</text>
<text x="1607.1" y="938.4" font-size="23.2" text-anchor="middle" fill="#231815" textLength="22.7" lengthAdjust="spacingAndGlyphs">32</text>
<line x1="1681.8" y1="929.9" x2="1697.8" y2="929.9" stroke="#231815" stroke-width="1.6" stroke-linecap="butt"/>
<text x="1772.5" y="938.4" font-size="23.2" text-anchor="middle" fill="#231815" textLength="22.7" lengthAdjust="spacingAndGlyphs">32</text>
<text x="414.5" y="973.9" font-size="24.5" font-weight="bold" text-anchor="middle" fill="#00a0e9">13</text>
<text x="597.3" y="973.8" font-size="23.2" text-anchor="middle" fill="#231815" textLength="22.7" lengthAdjust="spacingAndGlyphs">23</text>
<text x="780.5" y="973.8" font-size="23.2" text-anchor="middle" fill="#231815" textLength="39.7" lengthAdjust="spacingAndGlyphs">22.8</text>
<text x="1111.0" y="973.8" font-size="23.2" text-anchor="middle" fill="#231815" textLength="22.7" lengthAdjust="spacingAndGlyphs">43</text>
<text x="1524.3" y="973.8" font-size="23.2" text-anchor="middle" fill="#231815" textLength="22.7" lengthAdjust="spacingAndGlyphs">33</text>
<text x="1607.1" y="973.8" font-size="23.2" text-anchor="middle" fill="#231815" textLength="22.7" lengthAdjust="spacingAndGlyphs">34</text>
<line x1="1681.8" y1="965.3" x2="1697.8" y2="965.3" stroke="#231815" stroke-width="1.6" stroke-linecap="butt"/>
<text x="1772.5" y="973.8" font-size="23.2" text-anchor="middle" fill="#231815" textLength="22.7" lengthAdjust="spacingAndGlyphs">33</text>
<text x="414.5" y="1009.3" font-size="24.5" font-weight="bold" text-anchor="middle" fill="#00a0e9">16</text>
<text x="597.3" y="1009.2" font-size="23.2" text-anchor="middle" fill="#231815" textLength="22.7" lengthAdjust="spacingAndGlyphs">28</text>
<text x="780.5" y="1009.2" font-size="23.2" text-anchor="middle" fill="#231815" textLength="39.7" lengthAdjust="spacingAndGlyphs">27.8</text>
<text x="1111.0" y="1009.2" font-size="23.2" text-anchor="middle" fill="#231815" textLength="22.7" lengthAdjust="spacingAndGlyphs">48</text>
<text x="1524.3" y="1009.2" font-size="23.2" text-anchor="middle" fill="#231815" textLength="22.7" lengthAdjust="spacingAndGlyphs">38</text>
<text x="1607.1" y="1009.2" font-size="23.2" text-anchor="middle" fill="#231815" textLength="22.7" lengthAdjust="spacingAndGlyphs">37</text>
<text x="1689.8" y="1009.2" font-size="23.2" text-anchor="middle" fill="#231815" textLength="22.7" lengthAdjust="spacingAndGlyphs">22</text>
<text x="1772.5" y="1009.2" font-size="23.2" text-anchor="middle" fill="#231815" textLength="22.7" lengthAdjust="spacingAndGlyphs">31</text>
<text x="414.5" y="1044.7" font-size="24.5" font-weight="bold" text-anchor="middle" fill="#00a0e9">20</text>
<text x="597.3" y="1044.6" font-size="23.2" text-anchor="middle" fill="#231815" textLength="22.7" lengthAdjust="spacingAndGlyphs">32</text>
<text x="780.5" y="1044.6" font-size="23.2" text-anchor="middle" fill="#231815" textLength="39.7" lengthAdjust="spacingAndGlyphs">31.6</text>
<text x="1111.0" y="1044.6" font-size="23.2" text-anchor="middle" fill="#231815" textLength="22.7" lengthAdjust="spacingAndGlyphs">54</text>
<text x="1524.3" y="1044.6" font-size="23.2" text-anchor="middle" fill="#231815" textLength="22.7" lengthAdjust="spacingAndGlyphs">43</text>
<text x="1607.1" y="1044.6" font-size="23.2" text-anchor="middle" fill="#231815" textLength="22.7" lengthAdjust="spacingAndGlyphs">42</text>
<text x="1689.8" y="1044.6" font-size="23.2" text-anchor="middle" fill="#231815" textLength="22.7" lengthAdjust="spacingAndGlyphs">24</text>
<text x="1772.5" y="1044.6" font-size="23.2" text-anchor="middle" fill="#231815" textLength="22.7" lengthAdjust="spacingAndGlyphs">36</text>
<text x="414.5" y="1080.1" font-size="24.5" font-weight="bold" text-anchor="middle" fill="#00a0e9">25</text>
<text x="597.3" y="1080.0" font-size="23.2" text-anchor="middle" fill="#231815" textLength="22.7" lengthAdjust="spacingAndGlyphs">40</text>
<text x="780.5" y="1080.0" font-size="23.2" text-anchor="middle" fill="#231815" textLength="39.7" lengthAdjust="spacingAndGlyphs">39.6</text>
<text x="1111.0" y="1080.0" font-size="23.2" text-anchor="middle" fill="#231815" textLength="22.7" lengthAdjust="spacingAndGlyphs">62</text>
<text x="1524.3" y="1080.0" font-size="23.2" text-anchor="middle" fill="#231815" textLength="22.7" lengthAdjust="spacingAndGlyphs">51</text>
<text x="1607.1" y="1080.0" font-size="23.2" text-anchor="middle" fill="#231815" textLength="22.7" lengthAdjust="spacingAndGlyphs">50</text>
<text x="1689.8" y="1080.0" font-size="23.2" text-anchor="middle" fill="#231815" textLength="22.7" lengthAdjust="spacingAndGlyphs">32</text>
<text x="1772.5" y="1080.0" font-size="23.2" text-anchor="middle" fill="#231815" textLength="22.7" lengthAdjust="spacingAndGlyphs">40</text>
<text x="414.5" y="1115.5" font-size="24.5" font-weight="bold" text-anchor="middle" fill="#00a0e9">30</text>
<text x="597.3" y="1115.4" font-size="23.2" text-anchor="middle" fill="#231815" textLength="22.7" lengthAdjust="spacingAndGlyphs">45</text>
<text x="780.5" y="1115.4" font-size="23.2" text-anchor="middle" fill="#231815" textLength="39.7" lengthAdjust="spacingAndGlyphs">44.6</text>
<text x="1111.0" y="1115.4" font-size="23.2" text-anchor="middle" fill="#231815" textLength="22.7" lengthAdjust="spacingAndGlyphs">74</text>
<text x="1524.3" y="1115.4" font-size="23.2" text-anchor="middle" fill="#231815" textLength="22.7" lengthAdjust="spacingAndGlyphs">60</text>
<text x="1607.1" y="1115.4" font-size="23.2" text-anchor="middle" fill="#231815" textLength="22.7" lengthAdjust="spacingAndGlyphs">58</text>
<text x="1689.8" y="1115.4" font-size="23.2" text-anchor="middle" fill="#231815" textLength="22.7" lengthAdjust="spacingAndGlyphs">35</text>
<text x="1772.5" y="1115.4" font-size="23.2" text-anchor="middle" fill="#231815" textLength="22.7" lengthAdjust="spacingAndGlyphs">49</text>
<text x="863.0" y="832.2" font-size="23.2" text-anchor="middle" fill="#231815" textLength="22.7" lengthAdjust="spacingAndGlyphs">37</text>
<text x="863.0" y="867.6" font-size="23.2" text-anchor="middle" fill="#231815" textLength="22.7" lengthAdjust="spacingAndGlyphs">47</text>
<text x="863.0" y="938.4" font-size="23.2" text-anchor="middle" fill="#231815" textLength="22.7" lengthAdjust="spacingAndGlyphs">57</text>
<text x="863.0" y="1009.2" font-size="23.2" text-anchor="middle" fill="#231815" textLength="22.7" lengthAdjust="spacingAndGlyphs">67</text>
<text x="863.0" y="1044.6" font-size="23.2" text-anchor="middle" fill="#231815" textLength="22.7" lengthAdjust="spacingAndGlyphs">77</text>
<text x="863.0" y="1080.0" font-size="23.2" text-anchor="middle" fill="#231815" textLength="34.1" lengthAdjust="spacingAndGlyphs">108</text>
<text x="863.0" y="1115.4" font-size="23.2" text-anchor="middle" fill="#231815" textLength="34.1" lengthAdjust="spacingAndGlyphs">128</text>
<text x="1028.3" y="832.2" font-size="23.2" text-anchor="middle" fill="#231815" textLength="22.7" lengthAdjust="spacingAndGlyphs">16</text>
<text x="1028.3" y="867.6" font-size="23.2" text-anchor="middle" fill="#231815" textLength="22.7" lengthAdjust="spacingAndGlyphs">21</text>
<text x="1028.3" y="938.4" font-size="23.2" text-anchor="middle" fill="#231815" textLength="39.7" lengthAdjust="spacingAndGlyphs">25.5</text>
<text x="1028.3" y="1009.2" font-size="23.2" text-anchor="middle" fill="#231815" textLength="39.7" lengthAdjust="spacingAndGlyphs">30.5</text>
<text x="1028.3" y="1044.6" font-size="23.2" text-anchor="middle" fill="#231815" textLength="39.7" lengthAdjust="spacingAndGlyphs">34.5</text>
<text x="1028.3" y="1080.0" font-size="23.2" text-anchor="middle" fill="#231815" textLength="22.7" lengthAdjust="spacingAndGlyphs">50</text>
<text x="1028.3" y="1115.4" font-size="23.2" text-anchor="middle" fill="#231815" textLength="22.7" lengthAdjust="spacingAndGlyphs">59</text>
<text x="945.7" y="867.6" font-size="23.2" text-anchor="middle" fill="#231815" textLength="11.4" lengthAdjust="spacingAndGlyphs">5</text>
<text x="945.7" y="1026.9" font-size="23.2" text-anchor="middle" fill="#231815" textLength="22.7" lengthAdjust="spacingAndGlyphs">10</text>
<text x="1193.8" y="849.9" font-size="23.2" text-anchor="middle" fill="#231815" textLength="11.4" lengthAdjust="spacingAndGlyphs">5</text>
<text x="1193.8" y="956.1" font-size="23.2" text-anchor="middle" fill="#231815" textLength="11.4" lengthAdjust="spacingAndGlyphs">6</text>
<text x="1193.8" y="1062.3" font-size="23.2" text-anchor="middle" fill="#231815" textLength="11.4" lengthAdjust="spacingAndGlyphs">8</text>
<text x="1193.8" y="1115.4" font-size="23.2" text-anchor="middle" fill="#231815" textLength="22.7" lengthAdjust="spacingAndGlyphs">10</text>
<text x="1276.3" y="849.9" font-size="23.2" text-anchor="middle" fill="#231815" textLength="28.4" lengthAdjust="spacingAndGlyphs">3.5</text>
<text x="1276.3" y="956.1" font-size="23.2" text-anchor="middle" fill="#231815" textLength="28.4" lengthAdjust="spacingAndGlyphs">4.5</text>
<text x="1276.3" y="1062.3" font-size="23.2" text-anchor="middle" fill="#231815" textLength="28.4" lengthAdjust="spacingAndGlyphs">5.5</text>
<text x="1276.3" y="1115.4" font-size="23.2" text-anchor="middle" fill="#231815" textLength="28.4" lengthAdjust="spacingAndGlyphs">6.6</text>
<text x="1359.0" y="849.9" font-size="23.2" text-anchor="middle" fill="#231815" textLength="11.4" lengthAdjust="spacingAndGlyphs">6</text>
<text x="1359.0" y="956.1" font-size="23.2" text-anchor="middle" fill="#231815" textLength="28.4" lengthAdjust="spacingAndGlyphs">7.5</text>
<text x="1359.0" y="1062.3" font-size="23.2" text-anchor="middle" fill="#231815" textLength="11.4" lengthAdjust="spacingAndGlyphs">9</text>
<text x="1359.0" y="1115.4" font-size="23.2" text-anchor="middle" fill="#231815" textLength="22.7" lengthAdjust="spacingAndGlyphs">11</text>
<text x="1441.8" y="849.9" font-size="23.2" text-anchor="middle" fill="#231815" textLength="28.4" lengthAdjust="spacingAndGlyphs">3.1</text>
<text x="1441.8" y="956.1" font-size="23.2" text-anchor="middle" fill="#231815" textLength="28.4" lengthAdjust="spacingAndGlyphs">4.1</text>
<text x="1441.8" y="1062.3" font-size="23.2" text-anchor="middle" fill="#231815" textLength="28.4" lengthAdjust="spacingAndGlyphs">5.1</text>
<text x="1441.8" y="1115.4" font-size="23.2" text-anchor="middle" fill="#231815" textLength="28.4" lengthAdjust="spacingAndGlyphs">6.1</text>
<line x1="472.2" y1="815.6" x2="488.6" y2="815.6" stroke="#231815" stroke-width="1.2" stroke-linecap="butt"/>
<line x1="480.4" y1="810.8" x2="480.4" y2="820.4" stroke="#231815" stroke-width="1.2" stroke-linecap="butt"/>
<text x="492.4" y="820.9" font-size="16" font-family="Liberation Serif" fill="#231815" textLength="50.5" lengthAdjust="spacingAndGlyphs">0.022</text>
<text x="492.4" y="835.7" font-size="16" font-family="Liberation Serif" fill="#231815" textLength="10.6" lengthAdjust="spacingAndGlyphs">0</text>
<line x1="471.8" y1="865.3" x2="488.4" y2="865.3" stroke="#231815" stroke-width="1.9" stroke-linecap="butt"/>
<line x1="480.1" y1="857.5" x2="480.1" y2="873.0" stroke="#231815" stroke-width="1.9" stroke-linecap="butt"/>
<text x="492.0" y="873.8" font-size="23.2" fill="#231815" textLength="53.5" lengthAdjust="spacingAndGlyphs">0.028</text>
<text x="492.0" y="898.3" font-size="23.2" fill="#231815" textLength="11.4" lengthAdjust="spacingAndGlyphs">0</text>
<line x1="471.8" y1="953.8" x2="488.4" y2="953.8" stroke="#231815" stroke-width="1.9" stroke-linecap="butt"/>
<line x1="480.1" y1="946.0" x2="480.1" y2="961.5" stroke="#231815" stroke-width="1.9" stroke-linecap="butt"/>
<text x="492.0" y="962.3" font-size="23.2" fill="#231815" textLength="53.5" lengthAdjust="spacingAndGlyphs">0.034</text>
<text x="492.0" y="986.8" font-size="23.2" fill="#231815" textLength="11.4" lengthAdjust="spacingAndGlyphs">0</text>
<line x1="471.8" y1="1060.0" x2="488.4" y2="1060.0" stroke="#231815" stroke-width="1.9" stroke-linecap="butt"/>
<line x1="480.1" y1="1052.2" x2="480.1" y2="1067.8" stroke="#231815" stroke-width="1.9" stroke-linecap="butt"/>
<text x="492.0" y="1068.5" font-size="23.2" fill="#231815" textLength="53.5" lengthAdjust="spacingAndGlyphs">0.041</text>
<text x="492.0" y="1093.0" font-size="23.2" fill="#231815" textLength="11.4" lengthAdjust="spacingAndGlyphs">0</text>
<text x="674.8" y="838.9" font-size="23.2" fill="#231815" textLength="11.4" lengthAdjust="spacingAndGlyphs">0</text>
<line x1="655.6" y1="853.4" x2="672.2" y2="853.4" stroke="#231815" stroke-width="1.9" stroke-linecap="butt"/>
<text x="674.8" y="861.4" font-size="23.2" fill="#231815" textLength="54.0" lengthAdjust="spacingAndGlyphs">0.018</text>
<text x="674.8" y="945.1" font-size="23.2" fill="#231815" textLength="11.4" lengthAdjust="spacingAndGlyphs">0</text>
<line x1="655.6" y1="959.6" x2="672.2" y2="959.6" stroke="#231815" stroke-width="1.9" stroke-linecap="butt"/>
<text x="674.8" y="967.6" font-size="23.2" fill="#231815" textLength="54.0" lengthAdjust="spacingAndGlyphs">0.021</text>
<text x="674.8" y="1069.0" font-size="23.2" fill="#231815" textLength="11.4" lengthAdjust="spacingAndGlyphs">0</text>
<line x1="655.6" y1="1083.5" x2="672.2" y2="1083.5" stroke="#231815" stroke-width="1.9" stroke-linecap="butt"/>
<text x="674.8" y="1091.5" font-size="23.2" fill="#231815" textLength="54.0" lengthAdjust="spacingAndGlyphs">0.025</text>
<text x="202.1" y="832.5" font-size="23.5" fill="#231815" textLength="94.4" lengthAdjust="spacingAndGlyphs">圆法兰型</text>
<text x="91.4" y="867.4" font-size="23.5" fill="#231815" textLength="106.2" lengthAdjust="spacingAndGlyphs">(无密封圈)</text>
<text x="202.7" y="866.3" font-size="23.5" font-weight="bold" fill="#00a0e9" textLength="109.1" lengthAdjust="spacingAndGlyphs">ZMFCMW</text>
<text x="89.8" y="902.8" font-size="23.5" fill="#231815" textLength="102.0" lengthAdjust="spacingAndGlyphs">(带密封圈 )</text>
<text x="200.5" y="901.7" font-size="23.5" font-weight="bold" fill="#00a0e9" textLength="109.1" lengthAdjust="spacingAndGlyphs">ZMFCMW</text>
<line x1="314.8" y1="894.0" x2="330.3" y2="894.0" stroke="#00a0e9" stroke-width="2.4" stroke-linecap="butt"/>
<text x="334.3" y="901.7" font-size="23.5" font-weight="bold" fill="#00a0e9" textLength="14.3" lengthAdjust="spacingAndGlyphs">S</text>
<text x="203.1" y="938.7" font-size="23.5" fill="#231815" textLength="93.5" lengthAdjust="spacingAndGlyphs">方法兰型</text>
<text x="91.4" y="973.6" font-size="23.5" fill="#231815" textLength="106.2" lengthAdjust="spacingAndGlyphs">(无密封圈)</text>
<text x="202.7" y="972.5" font-size="23.5" font-weight="bold" fill="#00a0e9" textLength="104.2" lengthAdjust="spacingAndGlyphs">ZMFCKW</text>
<text x="89.8" y="1009.0" font-size="23.5" fill="#231815" textLength="102.0" lengthAdjust="spacingAndGlyphs">(带密封圈 )</text>
<text x="199.9" y="1007.9" font-size="23.5" font-weight="bold" fill="#00a0e9" textLength="104.2" lengthAdjust="spacingAndGlyphs">ZMFCKW</text>
<line x1="309.3" y1="1000.2" x2="324.8" y2="1000.2" stroke="#00a0e9" stroke-width="2.4" stroke-linecap="butt"/>
<text x="328.8" y="1007.9" font-size="23.5" font-weight="bold" fill="#00a0e9" textLength="14.3" lengthAdjust="spacingAndGlyphs">S</text>
<text x="202.6" y="1044.9" font-size="23.5" fill="#231815" textLength="165.0" lengthAdjust="spacingAndGlyphs">两面切割法兰型</text>
<text x="91.4" y="1079.8" font-size="23.5" fill="#231815" textLength="106.2" lengthAdjust="spacingAndGlyphs">(无密封圈)</text>
<text x="202.7" y="1078.7" font-size="23.5" font-weight="bold" fill="#00a0e9" textLength="104.1" lengthAdjust="spacingAndGlyphs">ZMFCNW</text>
<text x="89.8" y="1115.2" font-size="23.5" fill="#231815" textLength="102.0" lengthAdjust="spacingAndGlyphs">(带密封圈 )</text>
<text x="199.9" y="1114.1" font-size="23.5" font-weight="bold" fill="#00a0e9" textLength="104.1" lengthAdjust="spacingAndGlyphs">ZMFCNW</text>
<line x1="309.2" y1="1106.4" x2="324.7" y2="1106.4" stroke="#00a0e9" stroke-width="2.4" stroke-linecap="butt"/>
<text x="328.7" y="1114.1" font-size="23.5" font-weight="bold" fill="#00a0e9" textLength="14.3" lengthAdjust="spacingAndGlyphs">S</text>
<text x="23.3" y="1167.2" font-size="28.5" fill="#231815" textLength="90.0" lengthAdjust="spacingAndGlyphs">特长：</text>
<text x="112.6" y="1166.6" font-size="28.5" fill="#231815" textLength="739.8" lengthAdjust="spacingAndGlyphs">适合于垂直方向的运动，减少了固定座制作、组装时间。</text>
<text x="115.0" y="1196.8" font-size="28.5" fill="#231815" textLength="1209.5" lengthAdjust="spacingAndGlyphs">可在无油衬套主体的中心附近安装工件，法兰两侧平衡性好，载荷和空间上得到很好的分散。</text>
</svg></body></html>
